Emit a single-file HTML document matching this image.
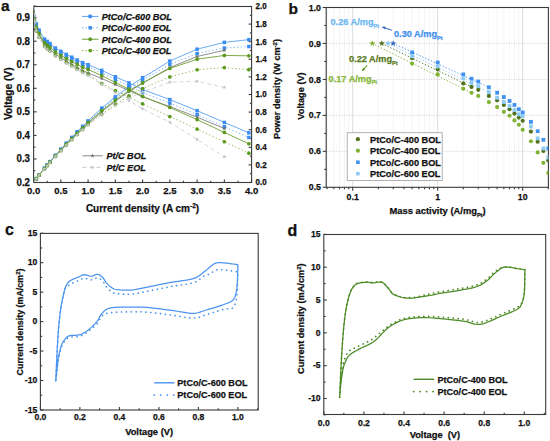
<!DOCTYPE html>
<html><head><meta charset="utf-8"><style>
html,body{margin:0;padding:0;background:#fff;width:550px;height:441px;overflow:hidden}
svg{display:block;font-family:'Liberation Sans', sans-serif}

</style></head><body>
<svg width="550" height="441" viewBox="0 0 550 441">
<rect width="550" height="441" fill="#fff"/>
<text x="1.00" y="11.30" font-size="15.5" text-anchor="start" fill="#111" stroke="#111" stroke-width="0.25" font-weight="bold" font-style="normal" >a</text>
<rect x="33.6" y="6.5" width="218.0" height="176.0" fill="none" stroke="#3a3a3a" stroke-width="1.1"/>
<line x1="33.60" y1="182.50" x2="33.60" y2="179.50" stroke="#3a3a3a" stroke-width="1.1" />
<text x="33.60" y="194.00" font-size="9.97" text-anchor="middle" fill="#111" stroke="#111" stroke-width="0.25" font-weight="bold" font-style="normal" textLength="13.21" lengthAdjust="spacingAndGlyphs">0.0</text>
<line x1="47.23" y1="182.50" x2="47.23" y2="180.70" stroke="#3a3a3a" stroke-width="1.1" />
<line x1="60.85" y1="182.50" x2="60.85" y2="179.50" stroke="#3a3a3a" stroke-width="1.1" />
<text x="60.85" y="194.00" font-size="9.97" text-anchor="middle" fill="#111" stroke="#111" stroke-width="0.25" font-weight="bold" font-style="normal" textLength="13.21" lengthAdjust="spacingAndGlyphs">0.5</text>
<line x1="74.47" y1="182.50" x2="74.47" y2="180.70" stroke="#3a3a3a" stroke-width="1.1" />
<line x1="88.10" y1="182.50" x2="88.10" y2="179.50" stroke="#3a3a3a" stroke-width="1.1" />
<text x="88.10" y="194.00" font-size="9.97" text-anchor="middle" fill="#111" stroke="#111" stroke-width="0.25" font-weight="bold" font-style="normal" textLength="13.21" lengthAdjust="spacingAndGlyphs">1.0</text>
<line x1="101.72" y1="182.50" x2="101.72" y2="180.70" stroke="#3a3a3a" stroke-width="1.1" />
<line x1="115.35" y1="182.50" x2="115.35" y2="179.50" stroke="#3a3a3a" stroke-width="1.1" />
<text x="115.35" y="194.00" font-size="9.97" text-anchor="middle" fill="#111" stroke="#111" stroke-width="0.25" font-weight="bold" font-style="normal" textLength="13.21" lengthAdjust="spacingAndGlyphs">1.5</text>
<line x1="128.97" y1="182.50" x2="128.97" y2="180.70" stroke="#3a3a3a" stroke-width="1.1" />
<line x1="142.60" y1="182.50" x2="142.60" y2="179.50" stroke="#3a3a3a" stroke-width="1.1" />
<text x="142.60" y="194.00" font-size="9.97" text-anchor="middle" fill="#111" stroke="#111" stroke-width="0.25" font-weight="bold" font-style="normal" textLength="13.21" lengthAdjust="spacingAndGlyphs">2.0</text>
<line x1="156.22" y1="182.50" x2="156.22" y2="180.70" stroke="#3a3a3a" stroke-width="1.1" />
<line x1="169.85" y1="182.50" x2="169.85" y2="179.50" stroke="#3a3a3a" stroke-width="1.1" />
<text x="169.85" y="194.00" font-size="9.97" text-anchor="middle" fill="#111" stroke="#111" stroke-width="0.25" font-weight="bold" font-style="normal" textLength="13.21" lengthAdjust="spacingAndGlyphs">2.5</text>
<line x1="183.47" y1="182.50" x2="183.47" y2="180.70" stroke="#3a3a3a" stroke-width="1.1" />
<line x1="197.10" y1="182.50" x2="197.10" y2="179.50" stroke="#3a3a3a" stroke-width="1.1" />
<text x="197.10" y="194.00" font-size="9.97" text-anchor="middle" fill="#111" stroke="#111" stroke-width="0.25" font-weight="bold" font-style="normal" textLength="13.21" lengthAdjust="spacingAndGlyphs">3.0</text>
<line x1="210.72" y1="182.50" x2="210.72" y2="180.70" stroke="#3a3a3a" stroke-width="1.1" />
<line x1="224.35" y1="182.50" x2="224.35" y2="179.50" stroke="#3a3a3a" stroke-width="1.1" />
<text x="224.35" y="194.00" font-size="9.97" text-anchor="middle" fill="#111" stroke="#111" stroke-width="0.25" font-weight="bold" font-style="normal" textLength="13.21" lengthAdjust="spacingAndGlyphs">3.5</text>
<line x1="237.97" y1="182.50" x2="237.97" y2="180.70" stroke="#3a3a3a" stroke-width="1.1" />
<line x1="251.60" y1="182.50" x2="251.60" y2="179.50" stroke="#3a3a3a" stroke-width="1.1" />
<text x="251.60" y="194.00" font-size="9.97" text-anchor="middle" fill="#111" stroke="#111" stroke-width="0.25" font-weight="bold" font-style="normal" textLength="13.21" lengthAdjust="spacingAndGlyphs">4.0</text>
<line x1="33.60" y1="182.50" x2="36.60" y2="182.50" stroke="#3a3a3a" stroke-width="1.1" />
<text x="30.00" y="186.00" font-size="10.19" text-anchor="end" fill="#111" stroke="#111" stroke-width="0.25" font-weight="bold" font-style="normal" textLength="13.48" lengthAdjust="spacingAndGlyphs">0.2</text>
<line x1="33.60" y1="170.72" x2="35.40" y2="170.72" stroke="#3a3a3a" stroke-width="1.1" />
<line x1="33.60" y1="158.95" x2="36.60" y2="158.95" stroke="#3a3a3a" stroke-width="1.1" />
<text x="30.00" y="162.45" font-size="10.19" text-anchor="end" fill="#111" stroke="#111" stroke-width="0.25" font-weight="bold" font-style="normal" textLength="13.48" lengthAdjust="spacingAndGlyphs">0.3</text>
<line x1="33.60" y1="147.18" x2="35.40" y2="147.18" stroke="#3a3a3a" stroke-width="1.1" />
<line x1="33.60" y1="135.40" x2="36.60" y2="135.40" stroke="#3a3a3a" stroke-width="1.1" />
<text x="30.00" y="138.90" font-size="10.19" text-anchor="end" fill="#111" stroke="#111" stroke-width="0.25" font-weight="bold" font-style="normal" textLength="13.48" lengthAdjust="spacingAndGlyphs">0.4</text>
<line x1="33.60" y1="123.62" x2="35.40" y2="123.62" stroke="#3a3a3a" stroke-width="1.1" />
<line x1="33.60" y1="111.85" x2="36.60" y2="111.85" stroke="#3a3a3a" stroke-width="1.1" />
<text x="30.00" y="115.35" font-size="10.19" text-anchor="end" fill="#111" stroke="#111" stroke-width="0.25" font-weight="bold" font-style="normal" textLength="13.48" lengthAdjust="spacingAndGlyphs">0.5</text>
<line x1="33.60" y1="100.07" x2="35.40" y2="100.07" stroke="#3a3a3a" stroke-width="1.1" />
<line x1="33.60" y1="88.30" x2="36.60" y2="88.30" stroke="#3a3a3a" stroke-width="1.1" />
<text x="30.00" y="91.80" font-size="10.19" text-anchor="end" fill="#111" stroke="#111" stroke-width="0.25" font-weight="bold" font-style="normal" textLength="13.48" lengthAdjust="spacingAndGlyphs">0.6</text>
<line x1="33.60" y1="76.52" x2="35.40" y2="76.52" stroke="#3a3a3a" stroke-width="1.1" />
<line x1="33.60" y1="64.75" x2="36.60" y2="64.75" stroke="#3a3a3a" stroke-width="1.1" />
<text x="30.00" y="68.25" font-size="10.19" text-anchor="end" fill="#111" stroke="#111" stroke-width="0.25" font-weight="bold" font-style="normal" textLength="13.48" lengthAdjust="spacingAndGlyphs">0.7</text>
<line x1="33.60" y1="52.97" x2="35.40" y2="52.97" stroke="#3a3a3a" stroke-width="1.1" />
<line x1="33.60" y1="41.20" x2="36.60" y2="41.20" stroke="#3a3a3a" stroke-width="1.1" />
<text x="30.00" y="44.70" font-size="10.19" text-anchor="end" fill="#111" stroke="#111" stroke-width="0.25" font-weight="bold" font-style="normal" textLength="13.48" lengthAdjust="spacingAndGlyphs">0.8</text>
<line x1="33.60" y1="29.42" x2="35.40" y2="29.42" stroke="#3a3a3a" stroke-width="1.1" />
<line x1="33.60" y1="17.65" x2="36.60" y2="17.65" stroke="#3a3a3a" stroke-width="1.1" />
<text x="30.00" y="21.15" font-size="10.19" text-anchor="end" fill="#111" stroke="#111" stroke-width="0.25" font-weight="bold" font-style="normal" textLength="13.48" lengthAdjust="spacingAndGlyphs">0.9</text>
<line x1="33.60" y1="5.88" x2="35.40" y2="5.88" stroke="#3a3a3a" stroke-width="1.1" />
<line x1="251.60" y1="182.50" x2="248.60" y2="182.50" stroke="#3a3a3a" stroke-width="1.1" />
<text x="255.60" y="185.40" font-size="8.4" text-anchor="start" fill="#111" stroke="#111" stroke-width="0.25" font-weight="bold" font-style="normal" textLength="11.12" lengthAdjust="spacingAndGlyphs">0.0</text>
<line x1="251.60" y1="173.70" x2="249.80" y2="173.70" stroke="#3a3a3a" stroke-width="1.1" />
<line x1="251.60" y1="164.90" x2="248.60" y2="164.90" stroke="#3a3a3a" stroke-width="1.1" />
<text x="255.60" y="167.80" font-size="8.4" text-anchor="start" fill="#111" stroke="#111" stroke-width="0.25" font-weight="bold" font-style="normal" textLength="11.12" lengthAdjust="spacingAndGlyphs">0.2</text>
<line x1="251.60" y1="156.10" x2="249.80" y2="156.10" stroke="#3a3a3a" stroke-width="1.1" />
<line x1="251.60" y1="147.30" x2="248.60" y2="147.30" stroke="#3a3a3a" stroke-width="1.1" />
<text x="255.60" y="150.20" font-size="8.4" text-anchor="start" fill="#111" stroke="#111" stroke-width="0.25" font-weight="bold" font-style="normal" textLength="11.12" lengthAdjust="spacingAndGlyphs">0.4</text>
<line x1="251.60" y1="138.50" x2="249.80" y2="138.50" stroke="#3a3a3a" stroke-width="1.1" />
<line x1="251.60" y1="129.70" x2="248.60" y2="129.70" stroke="#3a3a3a" stroke-width="1.1" />
<text x="255.60" y="132.60" font-size="8.4" text-anchor="start" fill="#111" stroke="#111" stroke-width="0.25" font-weight="bold" font-style="normal" textLength="11.12" lengthAdjust="spacingAndGlyphs">0.6</text>
<line x1="251.60" y1="120.90" x2="249.80" y2="120.90" stroke="#3a3a3a" stroke-width="1.1" />
<line x1="251.60" y1="112.10" x2="248.60" y2="112.10" stroke="#3a3a3a" stroke-width="1.1" />
<text x="255.60" y="115.00" font-size="8.4" text-anchor="start" fill="#111" stroke="#111" stroke-width="0.25" font-weight="bold" font-style="normal" textLength="11.12" lengthAdjust="spacingAndGlyphs">0.8</text>
<line x1="251.60" y1="103.30" x2="249.80" y2="103.30" stroke="#3a3a3a" stroke-width="1.1" />
<line x1="251.60" y1="94.50" x2="248.60" y2="94.50" stroke="#3a3a3a" stroke-width="1.1" />
<text x="255.60" y="97.40" font-size="8.4" text-anchor="start" fill="#111" stroke="#111" stroke-width="0.25" font-weight="bold" font-style="normal" textLength="11.12" lengthAdjust="spacingAndGlyphs">1.0</text>
<line x1="251.60" y1="85.70" x2="249.80" y2="85.70" stroke="#3a3a3a" stroke-width="1.1" />
<line x1="251.60" y1="76.90" x2="248.60" y2="76.90" stroke="#3a3a3a" stroke-width="1.1" />
<text x="255.60" y="79.80" font-size="8.4" text-anchor="start" fill="#111" stroke="#111" stroke-width="0.25" font-weight="bold" font-style="normal" textLength="11.12" lengthAdjust="spacingAndGlyphs">1.2</text>
<line x1="251.60" y1="68.10" x2="249.80" y2="68.10" stroke="#3a3a3a" stroke-width="1.1" />
<line x1="251.60" y1="59.30" x2="248.60" y2="59.30" stroke="#3a3a3a" stroke-width="1.1" />
<text x="255.60" y="62.20" font-size="8.4" text-anchor="start" fill="#111" stroke="#111" stroke-width="0.25" font-weight="bold" font-style="normal" textLength="11.12" lengthAdjust="spacingAndGlyphs">1.4</text>
<line x1="251.60" y1="50.50" x2="249.80" y2="50.50" stroke="#3a3a3a" stroke-width="1.1" />
<line x1="251.60" y1="41.70" x2="248.60" y2="41.70" stroke="#3a3a3a" stroke-width="1.1" />
<text x="255.60" y="44.60" font-size="8.4" text-anchor="start" fill="#111" stroke="#111" stroke-width="0.25" font-weight="bold" font-style="normal" textLength="11.12" lengthAdjust="spacingAndGlyphs">1.6</text>
<line x1="251.60" y1="32.90" x2="249.80" y2="32.90" stroke="#3a3a3a" stroke-width="1.1" />
<line x1="251.60" y1="24.10" x2="248.60" y2="24.10" stroke="#3a3a3a" stroke-width="1.1" />
<text x="255.60" y="27.00" font-size="8.4" text-anchor="start" fill="#111" stroke="#111" stroke-width="0.25" font-weight="bold" font-style="normal" textLength="11.12" lengthAdjust="spacingAndGlyphs">1.8</text>
<line x1="251.60" y1="15.30" x2="249.80" y2="15.30" stroke="#3a3a3a" stroke-width="1.1" />
<line x1="251.60" y1="6.50" x2="248.60" y2="6.50" stroke="#3a3a3a" stroke-width="1.1" />
<text x="255.60" y="9.40" font-size="8.4" text-anchor="start" fill="#111" stroke="#111" stroke-width="0.25" font-weight="bold" font-style="normal" textLength="11.12" lengthAdjust="spacingAndGlyphs">2.0</text>
<text x="142.50" y="211.80" font-size="10" text-anchor="middle" fill="#111" stroke="#111" stroke-width="0.25" font-weight="bold" font-style="normal" >Current density (A cm<tspan dy="-3.5" font-size="6.5">-2</tspan><tspan dy="3.5">)</tspan></text>
<text transform="translate(12.3,93.7) rotate(-90)" font-size="10.2" text-anchor="middle" fill="#111" stroke="#111" stroke-width="0.25" font-weight="bold">Voltage (V)</text>
<text transform="translate(280.0,89) rotate(-90)" font-size="9.1" text-anchor="middle" fill="#111" stroke="#111" stroke-width="0.25" font-weight="bold">Power density (W cm<tspan dy="-3" font-size="6">-2</tspan><tspan dy="3">)</tspan></text>
<clipPath id="clipa"><rect x="33.6" y="6.5" width="218.0" height="176.0"/></clipPath>
<g clip-path="url(#clipa)">
<polyline points="33.60,5.88 36.33,24.01 39.05,30.13 44.50,39.08 47.23,41.44 49.95,43.55 55.40,48.03 60.85,51.33 66.30,54.39 71.75,57.21 77.20,60.04 82.65,62.63 88.10,64.75 101.72,70.40 115.35,76.76 128.97,82.88 142.60,89.48 169.85,99.60 197.10,110.67 224.35,122.45 248.88,132.81" fill="none" stroke="#5aa2f2" stroke-width="0.9" stroke-linejoin="round" />
<polyline points="33.60,182.50 36.33,178.66 39.05,175.05 44.50,168.26 47.23,164.92 49.95,161.64 55.40,155.36 60.85,149.19 66.30,143.22 71.75,137.41 77.20,131.81 82.65,126.35 88.10,120.90 101.72,108.14 115.35,96.83 128.97,86.56 142.60,77.78 169.85,61.06 197.10,49.18 224.35,42.36 248.88,39.64" fill="none" stroke="#5aa2f2" stroke-width="0.9" stroke-linejoin="round" />
<rect x="34.58" y="22.26" width="3.5" height="3.5" fill="#3a8cf2"/>
<rect x="34.58" y="176.91" width="3.5" height="3.5" fill="#3a8cf2"/>
<rect x="37.30" y="28.38" width="3.5" height="3.5" fill="#3a8cf2"/>
<rect x="37.30" y="173.30" width="3.5" height="3.5" fill="#3a8cf2"/>
<rect x="42.75" y="37.33" width="3.5" height="3.5" fill="#3a8cf2"/>
<rect x="42.75" y="166.51" width="3.5" height="3.5" fill="#3a8cf2"/>
<rect x="45.48" y="39.69" width="3.5" height="3.5" fill="#3a8cf2"/>
<rect x="45.48" y="163.17" width="3.5" height="3.5" fill="#3a8cf2"/>
<rect x="48.20" y="41.80" width="3.5" height="3.5" fill="#3a8cf2"/>
<rect x="48.20" y="159.89" width="3.5" height="3.5" fill="#3a8cf2"/>
<rect x="53.65" y="46.28" width="3.5" height="3.5" fill="#3a8cf2"/>
<rect x="53.65" y="153.61" width="3.5" height="3.5" fill="#3a8cf2"/>
<rect x="59.10" y="49.58" width="3.5" height="3.5" fill="#3a8cf2"/>
<rect x="59.10" y="147.44" width="3.5" height="3.5" fill="#3a8cf2"/>
<rect x="64.55" y="52.64" width="3.5" height="3.5" fill="#3a8cf2"/>
<rect x="64.55" y="141.47" width="3.5" height="3.5" fill="#3a8cf2"/>
<rect x="70.00" y="55.46" width="3.5" height="3.5" fill="#3a8cf2"/>
<rect x="70.00" y="135.66" width="3.5" height="3.5" fill="#3a8cf2"/>
<rect x="75.45" y="58.29" width="3.5" height="3.5" fill="#3a8cf2"/>
<rect x="75.45" y="130.06" width="3.5" height="3.5" fill="#3a8cf2"/>
<rect x="80.90" y="60.88" width="3.5" height="3.5" fill="#3a8cf2"/>
<rect x="80.90" y="124.60" width="3.5" height="3.5" fill="#3a8cf2"/>
<rect x="86.35" y="63.00" width="3.5" height="3.5" fill="#3a8cf2"/>
<rect x="86.35" y="119.15" width="3.5" height="3.5" fill="#3a8cf2"/>
<rect x="99.97" y="68.65" width="3.5" height="3.5" fill="#3a8cf2"/>
<rect x="99.97" y="106.39" width="3.5" height="3.5" fill="#3a8cf2"/>
<rect x="113.60" y="75.01" width="3.5" height="3.5" fill="#3a8cf2"/>
<rect x="113.60" y="95.08" width="3.5" height="3.5" fill="#3a8cf2"/>
<rect x="127.22" y="81.13" width="3.5" height="3.5" fill="#3a8cf2"/>
<rect x="127.22" y="84.81" width="3.5" height="3.5" fill="#3a8cf2"/>
<rect x="140.85" y="87.73" width="3.5" height="3.5" fill="#3a8cf2"/>
<rect x="140.85" y="76.03" width="3.5" height="3.5" fill="#3a8cf2"/>
<rect x="168.10" y="97.85" width="3.5" height="3.5" fill="#3a8cf2"/>
<rect x="168.10" y="59.31" width="3.5" height="3.5" fill="#3a8cf2"/>
<rect x="195.35" y="108.92" width="3.5" height="3.5" fill="#3a8cf2"/>
<rect x="195.35" y="47.43" width="3.5" height="3.5" fill="#3a8cf2"/>
<rect x="222.60" y="120.70" width="3.5" height="3.5" fill="#3a8cf2"/>
<rect x="222.60" y="40.61" width="3.5" height="3.5" fill="#3a8cf2"/>
<rect x="247.12" y="131.06" width="3.5" height="3.5" fill="#3a8cf2"/>
<rect x="247.12" y="37.89" width="3.5" height="3.5" fill="#3a8cf2"/>
<polyline points="33.60,6.82 36.33,25.02 39.05,31.21 44.50,40.31 47.23,42.73 49.95,44.92 55.40,49.54 60.85,52.97 66.30,56.18 71.75,59.15 77.20,62.11 82.65,64.84 88.10,67.11 101.72,72.95 115.35,79.51 128.97,85.83 142.60,92.62 169.85,103.14 197.10,114.60 224.35,126.76 248.88,137.48" fill="none" stroke="#5aa2f2" stroke-width="0.9" stroke-linejoin="round" stroke-dasharray="1.2 2.4"/>
<polyline points="33.60,182.50 36.33,178.68 39.05,175.09 44.50,168.35 47.23,165.04 49.95,161.80 55.40,155.59 60.85,149.50 66.30,143.62 71.75,137.91 77.20,132.43 82.65,127.09 88.10,121.78 101.72,109.33 115.35,98.37 128.97,88.48 142.60,80.13 169.85,64.36 197.10,53.58 224.35,48.01 248.88,46.53" fill="none" stroke="#5aa2f2" stroke-width="0.9" stroke-linejoin="round" stroke-dasharray="1.2 2.4"/>
<rect x="34.58" y="23.27" width="3.5" height="3.5" fill="#3a8cf2"/>
<rect x="34.58" y="176.93" width="3.5" height="3.5" fill="#3a8cf2"/>
<rect x="37.30" y="29.46" width="3.5" height="3.5" fill="#3a8cf2"/>
<rect x="37.30" y="173.34" width="3.5" height="3.5" fill="#3a8cf2"/>
<rect x="42.75" y="38.56" width="3.5" height="3.5" fill="#3a8cf2"/>
<rect x="42.75" y="166.60" width="3.5" height="3.5" fill="#3a8cf2"/>
<rect x="45.48" y="40.98" width="3.5" height="3.5" fill="#3a8cf2"/>
<rect x="45.48" y="163.29" width="3.5" height="3.5" fill="#3a8cf2"/>
<rect x="48.20" y="43.17" width="3.5" height="3.5" fill="#3a8cf2"/>
<rect x="48.20" y="160.05" width="3.5" height="3.5" fill="#3a8cf2"/>
<rect x="53.65" y="47.79" width="3.5" height="3.5" fill="#3a8cf2"/>
<rect x="53.65" y="153.84" width="3.5" height="3.5" fill="#3a8cf2"/>
<rect x="59.10" y="51.22" width="3.5" height="3.5" fill="#3a8cf2"/>
<rect x="59.10" y="147.75" width="3.5" height="3.5" fill="#3a8cf2"/>
<rect x="64.55" y="54.43" width="3.5" height="3.5" fill="#3a8cf2"/>
<rect x="64.55" y="141.87" width="3.5" height="3.5" fill="#3a8cf2"/>
<rect x="70.00" y="57.40" width="3.5" height="3.5" fill="#3a8cf2"/>
<rect x="70.00" y="136.16" width="3.5" height="3.5" fill="#3a8cf2"/>
<rect x="75.45" y="60.36" width="3.5" height="3.5" fill="#3a8cf2"/>
<rect x="75.45" y="130.68" width="3.5" height="3.5" fill="#3a8cf2"/>
<rect x="80.90" y="63.09" width="3.5" height="3.5" fill="#3a8cf2"/>
<rect x="80.90" y="125.34" width="3.5" height="3.5" fill="#3a8cf2"/>
<rect x="86.35" y="65.36" width="3.5" height="3.5" fill="#3a8cf2"/>
<rect x="86.35" y="120.03" width="3.5" height="3.5" fill="#3a8cf2"/>
<rect x="99.97" y="71.20" width="3.5" height="3.5" fill="#3a8cf2"/>
<rect x="99.97" y="107.58" width="3.5" height="3.5" fill="#3a8cf2"/>
<rect x="113.60" y="77.76" width="3.5" height="3.5" fill="#3a8cf2"/>
<rect x="113.60" y="96.62" width="3.5" height="3.5" fill="#3a8cf2"/>
<rect x="127.22" y="84.08" width="3.5" height="3.5" fill="#3a8cf2"/>
<rect x="127.22" y="86.73" width="3.5" height="3.5" fill="#3a8cf2"/>
<rect x="140.85" y="90.87" width="3.5" height="3.5" fill="#3a8cf2"/>
<rect x="140.85" y="78.38" width="3.5" height="3.5" fill="#3a8cf2"/>
<rect x="168.10" y="101.39" width="3.5" height="3.5" fill="#3a8cf2"/>
<rect x="168.10" y="62.61" width="3.5" height="3.5" fill="#3a8cf2"/>
<rect x="195.35" y="112.85" width="3.5" height="3.5" fill="#3a8cf2"/>
<rect x="195.35" y="51.83" width="3.5" height="3.5" fill="#3a8cf2"/>
<rect x="222.60" y="125.01" width="3.5" height="3.5" fill="#3a8cf2"/>
<rect x="222.60" y="46.26" width="3.5" height="3.5" fill="#3a8cf2"/>
<rect x="247.12" y="135.73" width="3.5" height="3.5" fill="#3a8cf2"/>
<rect x="247.12" y="44.78" width="3.5" height="3.5" fill="#3a8cf2"/>
<polyline points="33.60,5.88 36.33,28.90 39.05,35.19 44.50,44.50 47.23,47.03 49.95,49.32 55.40,54.15 60.85,57.80 66.30,61.22 71.75,64.40 77.20,67.58 82.65,70.52 88.10,72.99 101.72,78.43 115.35,84.57 128.97,90.48 142.60,96.86 169.85,106.55 197.10,117.19 224.35,128.53" fill="none" stroke="#808080" stroke-width="0.9" stroke-linejoin="round" />
<polyline points="33.60,182.50 36.33,178.75 39.05,175.24 44.50,168.67 47.23,165.44 49.95,162.29 55.40,156.28 60.85,150.40 66.30,144.75 71.75,139.29 77.20,134.06 82.65,129.00 88.10,123.98 101.72,111.89 115.35,101.21 128.97,91.52 142.60,83.29 169.85,67.55 197.10,56.48 224.35,50.32" fill="none" stroke="#808080" stroke-width="0.9" stroke-linejoin="round" />
<polygon points="36.33,26.70 36.88,28.13 38.42,28.22 37.23,29.19 37.62,30.67 36.33,29.85 35.03,30.67 35.42,29.19 34.23,28.22 35.77,28.13" fill="#707070"/>
<polygon points="36.33,176.55 36.88,177.98 38.42,178.07 37.23,179.04 37.62,180.53 36.33,179.70 35.03,180.53 35.42,179.04 34.23,178.07 35.77,177.98" fill="#707070"/>
<polygon points="39.05,32.99 39.61,34.43 41.14,34.51 39.95,35.49 40.34,36.97 39.05,36.14 37.76,36.97 38.15,35.49 36.96,34.51 38.49,34.43" fill="#707070"/>
<polygon points="39.05,173.04 39.61,174.47 41.14,174.56 39.95,175.53 40.34,177.02 39.05,176.19 37.76,177.02 38.15,175.53 36.96,174.56 38.49,174.47" fill="#707070"/>
<polygon points="44.50,42.30 45.06,43.73 46.59,43.82 45.40,44.79 45.79,46.28 44.50,45.45 43.21,46.28 43.60,44.79 42.41,43.82 43.94,43.73" fill="#707070"/>
<polygon points="44.50,166.47 45.06,167.90 46.59,167.99 45.40,168.96 45.79,170.45 44.50,169.62 43.21,170.45 43.60,168.96 42.41,167.99 43.94,167.90" fill="#707070"/>
<polygon points="47.23,44.83 47.78,46.26 49.32,46.35 48.13,47.32 48.52,48.81 47.23,47.98 45.93,48.81 46.32,47.32 45.13,46.35 46.67,46.26" fill="#707070"/>
<polygon points="47.23,163.24 47.78,164.68 49.32,164.76 48.13,165.74 48.52,167.22 47.23,166.39 45.93,167.22 46.32,165.74 45.13,164.76 46.67,164.68" fill="#707070"/>
<polygon points="49.95,47.12 50.51,48.56 52.04,48.64 50.85,49.62 51.24,51.10 49.95,50.27 48.66,51.10 49.05,49.62 47.86,48.64 49.39,48.56" fill="#707070"/>
<polygon points="49.95,160.09 50.51,161.52 52.04,161.61 50.85,162.58 51.24,164.07 49.95,163.24 48.66,164.07 49.05,162.58 47.86,161.61 49.39,161.52" fill="#707070"/>
<polygon points="55.40,51.95 55.96,53.38 57.49,53.47 56.30,54.45 56.69,55.93 55.40,55.10 54.11,55.93 54.50,54.45 53.31,53.47 54.84,53.38" fill="#707070"/>
<polygon points="55.40,154.08 55.96,155.51 57.49,155.60 56.30,156.57 56.69,158.06 55.40,157.23 54.11,158.06 54.50,156.57 53.31,155.60 54.84,155.51" fill="#707070"/>
<polygon points="60.85,55.60 61.41,57.03 62.94,57.12 61.75,58.10 62.14,59.58 60.85,58.75 59.56,59.58 59.95,58.10 58.76,57.12 60.29,57.03" fill="#707070"/>
<polygon points="60.85,148.20 61.41,149.63 62.94,149.72 61.75,150.70 62.14,152.18 60.85,151.35 59.56,152.18 59.95,150.70 58.76,149.72 60.29,149.63" fill="#707070"/>
<polygon points="66.30,59.02 66.86,60.45 68.39,60.54 67.20,61.51 67.59,63.00 66.30,62.17 65.01,63.00 65.40,61.51 64.21,60.54 65.74,60.45" fill="#707070"/>
<polygon points="66.30,142.55 66.86,143.98 68.39,144.07 67.20,145.04 67.59,146.53 66.30,145.70 65.01,146.53 65.40,145.04 64.21,144.07 65.74,143.98" fill="#707070"/>
<polygon points="71.75,62.20 72.31,63.63 73.84,63.72 72.65,64.69 73.04,66.18 71.75,65.35 70.46,66.18 70.85,64.69 69.66,63.72 71.19,63.63" fill="#707070"/>
<polygon points="71.75,137.09 72.31,138.52 73.84,138.61 72.65,139.58 73.04,141.07 71.75,140.24 70.46,141.07 70.85,139.58 69.66,138.61 71.19,138.52" fill="#707070"/>
<polygon points="77.20,65.38 77.76,66.81 79.29,66.90 78.10,67.87 78.49,69.36 77.20,68.53 75.91,69.36 76.30,67.87 75.11,66.90 76.64,66.81" fill="#707070"/>
<polygon points="77.20,131.86 77.76,133.30 79.29,133.38 78.10,134.36 78.49,135.84 77.20,135.01 75.91,135.84 76.30,134.36 75.11,133.38 76.64,133.30" fill="#707070"/>
<polygon points="82.65,68.32 83.21,69.75 84.74,69.84 83.55,70.81 83.94,72.30 82.65,71.47 81.36,72.30 81.75,70.81 80.56,69.84 82.09,69.75" fill="#707070"/>
<polygon points="82.65,126.80 83.21,128.23 84.74,128.32 83.55,129.29 83.94,130.78 82.65,129.95 81.36,130.78 81.75,129.29 80.56,128.32 82.09,128.23" fill="#707070"/>
<polygon points="88.10,70.79 88.66,72.22 90.19,72.31 89.00,73.29 89.39,74.77 88.10,73.94 86.81,74.77 87.20,73.29 86.01,72.31 87.54,72.22" fill="#707070"/>
<polygon points="88.10,121.78 88.66,123.21 90.19,123.30 89.00,124.27 89.39,125.76 88.10,124.93 86.81,125.76 87.20,124.27 86.01,123.30 87.54,123.21" fill="#707070"/>
<polygon points="101.72,76.23 102.28,77.66 103.82,77.75 102.63,78.72 103.02,80.21 101.72,79.38 100.43,80.21 100.82,78.72 99.63,77.75 101.17,77.66" fill="#707070"/>
<polygon points="101.72,109.69 102.28,111.12 103.82,111.21 102.63,112.18 103.02,113.67 101.72,112.84 100.43,113.67 100.82,112.18 99.63,111.21 101.17,111.12" fill="#707070"/>
<polygon points="115.35,82.37 115.91,83.80 117.44,83.89 116.25,84.86 116.64,86.35 115.35,85.52 114.06,86.35 114.45,84.86 113.26,83.89 114.79,83.80" fill="#707070"/>
<polygon points="115.35,99.01 115.91,100.44 117.44,100.53 116.25,101.50 116.64,102.99 115.35,102.16 114.06,102.99 114.45,101.50 113.26,100.53 114.79,100.44" fill="#707070"/>
<polygon points="128.97,88.28 129.53,89.71 131.07,89.80 129.88,90.77 130.27,92.26 128.97,91.43 127.68,92.26 128.07,90.77 126.88,89.80 128.42,89.71" fill="#707070"/>
<polygon points="128.97,89.32 129.53,90.76 131.07,90.84 129.88,91.82 130.27,93.30 128.97,92.47 127.68,93.30 128.07,91.82 126.88,90.84 128.42,90.76" fill="#707070"/>
<polygon points="142.60,94.66 143.16,96.09 144.69,96.18 143.50,97.15 143.89,98.64 142.60,97.81 141.31,98.64 141.70,97.15 140.51,96.18 142.04,96.09" fill="#707070"/>
<polygon points="142.60,81.09 143.16,82.53 144.69,82.61 143.50,83.59 143.89,85.07 142.60,84.24 141.31,85.07 141.70,83.59 140.51,82.61 142.04,82.53" fill="#707070"/>
<polygon points="169.85,104.35 170.41,105.78 171.94,105.87 170.75,106.84 171.14,108.33 169.85,107.50 168.56,108.33 168.95,106.84 167.76,105.87 169.29,105.78" fill="#707070"/>
<polygon points="169.85,65.35 170.41,66.78 171.94,66.87 170.75,67.84 171.14,69.33 169.85,68.50 168.56,69.33 168.95,67.84 167.76,66.87 169.29,66.78" fill="#707070"/>
<polygon points="197.10,114.99 197.66,116.42 199.19,116.51 198.00,117.48 198.39,118.97 197.10,118.14 195.81,118.97 196.20,117.48 195.01,116.51 196.54,116.42" fill="#707070"/>
<polygon points="197.10,54.28 197.66,55.72 199.19,55.80 198.00,56.78 198.39,58.26 197.10,57.43 195.81,58.26 196.20,56.78 195.01,55.80 196.54,55.72" fill="#707070"/>
<polygon points="224.35,126.33 224.91,127.76 226.44,127.85 225.25,128.82 225.64,130.31 224.35,129.48 223.06,130.31 223.45,128.82 222.26,127.85 223.79,127.76" fill="#707070"/>
<polygon points="224.35,48.12 224.91,49.55 226.44,49.64 225.25,50.61 225.64,52.10 224.35,51.27 223.06,52.10 223.45,50.61 222.26,49.64 223.79,49.55" fill="#707070"/>
<polyline points="33.60,9.17 36.33,27.38 39.05,33.57 44.50,42.66 47.23,45.09 49.95,47.28 55.40,51.89 60.85,55.33 66.30,58.53 71.75,61.50 77.20,64.47 82.65,67.20 88.10,69.46 101.72,75.64 115.35,82.53 128.97,89.18 142.60,96.31 169.85,107.49 197.10,119.62 224.35,132.46 248.88,143.77" fill="none" stroke="#6f9f2e" stroke-width="0.9" stroke-linejoin="round" />
<polyline points="33.60,182.50 36.33,178.72 39.05,175.17 44.50,168.53 47.23,165.26 49.95,162.06 55.40,155.94 60.85,149.94 66.30,144.15 71.75,138.53 77.20,133.14 82.65,127.88 88.10,122.66 101.72,110.59 115.35,100.07 128.97,90.68 142.60,82.88 169.85,68.43 197.10,59.21 224.35,55.45 248.88,55.82" fill="none" stroke="#6f9f2e" stroke-width="0.9" stroke-linejoin="round" />
<circle cx="36.33" cy="27.38" r="1.85" fill="#5c9a1e"/>
<circle cx="36.33" cy="178.72" r="1.85" fill="#5c9a1e"/>
<circle cx="39.05" cy="33.57" r="1.85" fill="#5c9a1e"/>
<circle cx="39.05" cy="175.17" r="1.85" fill="#5c9a1e"/>
<circle cx="44.50" cy="42.66" r="1.85" fill="#5c9a1e"/>
<circle cx="44.50" cy="168.53" r="1.85" fill="#5c9a1e"/>
<circle cx="47.23" cy="45.09" r="1.85" fill="#5c9a1e"/>
<circle cx="47.23" cy="165.26" r="1.85" fill="#5c9a1e"/>
<circle cx="49.95" cy="47.28" r="1.85" fill="#5c9a1e"/>
<circle cx="49.95" cy="162.06" r="1.85" fill="#5c9a1e"/>
<circle cx="55.40" cy="51.89" r="1.85" fill="#5c9a1e"/>
<circle cx="55.40" cy="155.94" r="1.85" fill="#5c9a1e"/>
<circle cx="60.85" cy="55.33" r="1.85" fill="#5c9a1e"/>
<circle cx="60.85" cy="149.94" r="1.85" fill="#5c9a1e"/>
<circle cx="66.30" cy="58.53" r="1.85" fill="#5c9a1e"/>
<circle cx="66.30" cy="144.15" r="1.85" fill="#5c9a1e"/>
<circle cx="71.75" cy="61.50" r="1.85" fill="#5c9a1e"/>
<circle cx="71.75" cy="138.53" r="1.85" fill="#5c9a1e"/>
<circle cx="77.20" cy="64.47" r="1.85" fill="#5c9a1e"/>
<circle cx="77.20" cy="133.14" r="1.85" fill="#5c9a1e"/>
<circle cx="82.65" cy="67.20" r="1.85" fill="#5c9a1e"/>
<circle cx="82.65" cy="127.88" r="1.85" fill="#5c9a1e"/>
<circle cx="88.10" cy="69.46" r="1.85" fill="#5c9a1e"/>
<circle cx="88.10" cy="122.66" r="1.85" fill="#5c9a1e"/>
<circle cx="101.72" cy="75.64" r="1.85" fill="#5c9a1e"/>
<circle cx="101.72" cy="110.59" r="1.85" fill="#5c9a1e"/>
<circle cx="115.35" cy="82.53" r="1.85" fill="#5c9a1e"/>
<circle cx="115.35" cy="100.07" r="1.85" fill="#5c9a1e"/>
<circle cx="128.97" cy="89.18" r="1.85" fill="#5c9a1e"/>
<circle cx="128.97" cy="90.68" r="1.85" fill="#5c9a1e"/>
<circle cx="142.60" cy="96.31" r="1.85" fill="#5c9a1e"/>
<circle cx="142.60" cy="82.88" r="1.85" fill="#5c9a1e"/>
<circle cx="169.85" cy="107.49" r="1.85" fill="#5c9a1e"/>
<circle cx="169.85" cy="68.43" r="1.85" fill="#5c9a1e"/>
<circle cx="197.10" cy="119.62" r="1.85" fill="#5c9a1e"/>
<circle cx="197.10" cy="59.21" r="1.85" fill="#5c9a1e"/>
<circle cx="224.35" cy="132.46" r="1.85" fill="#5c9a1e"/>
<circle cx="224.35" cy="55.45" r="1.85" fill="#5c9a1e"/>
<circle cx="248.88" cy="143.77" r="1.85" fill="#5c9a1e"/>
<circle cx="248.88" cy="55.82" r="1.85" fill="#5c9a1e"/>
<polyline points="33.60,12.94 36.33,31.14 39.05,37.34 44.50,46.43 47.23,48.85 49.95,51.04 55.40,55.66 60.85,59.10 66.30,62.54 71.75,65.74 77.20,68.94 82.65,71.91 88.10,74.41 101.72,83.59 115.35,90.65 128.97,97.01 142.60,103.84 169.85,116.56 197.10,129.04 224.35,141.76 248.88,153.18" fill="none" stroke="#7fae3a" stroke-width="0.9" stroke-linejoin="round" stroke-dasharray="1.2 2.4"/>
<polyline points="33.60,182.50 36.33,178.79 39.05,175.32 44.50,168.81 47.23,165.62 49.95,162.48 55.40,156.50 60.85,150.64 66.30,145.04 71.75,139.64 77.20,134.47 82.65,129.47 88.10,124.51 101.72,114.30 115.35,104.62 128.97,95.80 142.60,88.52 169.85,76.90 197.10,69.77 224.35,67.62 248.88,69.70" fill="none" stroke="#7fae3a" stroke-width="0.9" stroke-linejoin="round" stroke-dasharray="1.2 2.4"/>
<circle cx="36.33" cy="31.14" r="1.85" fill="#5c9a1e"/>
<circle cx="36.33" cy="178.79" r="1.85" fill="#5c9a1e"/>
<circle cx="39.05" cy="37.34" r="1.85" fill="#5c9a1e"/>
<circle cx="39.05" cy="175.32" r="1.85" fill="#5c9a1e"/>
<circle cx="44.50" cy="46.43" r="1.85" fill="#5c9a1e"/>
<circle cx="44.50" cy="168.81" r="1.85" fill="#5c9a1e"/>
<circle cx="47.23" cy="48.85" r="1.85" fill="#5c9a1e"/>
<circle cx="47.23" cy="165.62" r="1.85" fill="#5c9a1e"/>
<circle cx="49.95" cy="51.04" r="1.85" fill="#5c9a1e"/>
<circle cx="49.95" cy="162.48" r="1.85" fill="#5c9a1e"/>
<circle cx="55.40" cy="55.66" r="1.85" fill="#5c9a1e"/>
<circle cx="55.40" cy="156.50" r="1.85" fill="#5c9a1e"/>
<circle cx="60.85" cy="59.10" r="1.85" fill="#5c9a1e"/>
<circle cx="60.85" cy="150.64" r="1.85" fill="#5c9a1e"/>
<circle cx="66.30" cy="62.54" r="1.85" fill="#5c9a1e"/>
<circle cx="66.30" cy="145.04" r="1.85" fill="#5c9a1e"/>
<circle cx="71.75" cy="65.74" r="1.85" fill="#5c9a1e"/>
<circle cx="71.75" cy="139.64" r="1.85" fill="#5c9a1e"/>
<circle cx="77.20" cy="68.94" r="1.85" fill="#5c9a1e"/>
<circle cx="77.20" cy="134.47" r="1.85" fill="#5c9a1e"/>
<circle cx="82.65" cy="71.91" r="1.85" fill="#5c9a1e"/>
<circle cx="82.65" cy="129.47" r="1.85" fill="#5c9a1e"/>
<circle cx="88.10" cy="74.41" r="1.85" fill="#5c9a1e"/>
<circle cx="88.10" cy="124.51" r="1.85" fill="#5c9a1e"/>
<circle cx="101.72" cy="83.59" r="1.85" fill="#5c9a1e"/>
<circle cx="101.72" cy="114.30" r="1.85" fill="#5c9a1e"/>
<circle cx="115.35" cy="90.65" r="1.85" fill="#5c9a1e"/>
<circle cx="115.35" cy="104.62" r="1.85" fill="#5c9a1e"/>
<circle cx="128.97" cy="97.01" r="1.85" fill="#5c9a1e"/>
<circle cx="128.97" cy="95.80" r="1.85" fill="#5c9a1e"/>
<circle cx="142.60" cy="103.84" r="1.85" fill="#5c9a1e"/>
<circle cx="142.60" cy="88.52" r="1.85" fill="#5c9a1e"/>
<circle cx="169.85" cy="116.56" r="1.85" fill="#5c9a1e"/>
<circle cx="169.85" cy="76.90" r="1.85" fill="#5c9a1e"/>
<circle cx="197.10" cy="129.04" r="1.85" fill="#5c9a1e"/>
<circle cx="197.10" cy="69.77" r="1.85" fill="#5c9a1e"/>
<circle cx="224.35" cy="141.76" r="1.85" fill="#5c9a1e"/>
<circle cx="224.35" cy="67.62" r="1.85" fill="#5c9a1e"/>
<circle cx="248.88" cy="153.18" r="1.85" fill="#5c9a1e"/>
<circle cx="248.88" cy="69.70" r="1.85" fill="#5c9a1e"/>
<polyline points="33.60,5.88 36.33,31.21 39.05,37.48 44.50,46.71 47.23,49.21 49.95,51.47 55.40,56.22 60.85,59.80 66.30,63.34 71.75,66.63 77.20,69.93 82.65,72.99 88.10,75.58 101.72,84.30 115.35,92.77 128.97,100.55 142.60,108.79 169.85,122.21 197.10,139.40 224.35,156.83" fill="none" stroke="#d0d0d0" stroke-width="0.9" stroke-linejoin="round" stroke-dasharray="4 3"/>
<polyline points="33.60,182.50 36.33,178.79 39.05,175.32 44.50,168.83 47.23,165.65 49.95,162.53 55.40,156.59 60.85,150.78 66.30,145.22 71.75,139.87 77.20,134.77 82.65,129.83 88.10,124.95 101.72,114.63 115.35,105.81 128.97,98.11 142.60,92.21 169.85,82.18 197.10,81.39 224.35,87.33" fill="none" stroke="#d0d0d0" stroke-width="0.9" stroke-linejoin="round" stroke-dasharray="4 3"/>
<polygon points="36.33,29.01 36.88,30.45 38.42,30.53 37.23,31.51 37.62,32.99 36.33,32.16 35.03,32.99 35.42,31.51 34.23,30.53 35.77,30.45" fill="#c4c4c4"/>
<polygon points="36.33,176.59 36.88,178.02 38.42,178.11 37.23,179.09 37.62,180.57 36.33,179.74 35.03,180.57 35.42,179.09 34.23,178.11 35.77,178.02" fill="#c4c4c4"/>
<polygon points="39.05,35.28 39.61,36.71 41.14,36.80 39.95,37.77 40.34,39.26 39.05,38.43 37.76,39.26 38.15,37.77 36.96,36.80 38.49,36.71" fill="#c4c4c4"/>
<polygon points="39.05,173.12 39.61,174.55 41.14,174.64 39.95,175.61 40.34,177.10 39.05,176.27 37.76,177.10 38.15,175.61 36.96,174.64 38.49,174.55" fill="#c4c4c4"/>
<polygon points="44.50,44.51 45.06,45.94 46.59,46.03 45.40,47.00 45.79,48.49 44.50,47.66 43.21,48.49 43.60,47.00 42.41,46.03 43.94,45.94" fill="#c4c4c4"/>
<polygon points="44.50,166.63 45.06,168.06 46.59,168.15 45.40,169.13 45.79,170.61 44.50,169.78 43.21,170.61 43.60,169.13 42.41,168.15 43.94,168.06" fill="#c4c4c4"/>
<polygon points="47.23,47.01 47.78,48.44 49.32,48.53 48.13,49.50 48.52,50.99 47.23,50.16 45.93,50.99 46.32,49.50 45.13,48.53 46.67,48.44" fill="#c4c4c4"/>
<polygon points="47.23,163.45 47.78,164.88 49.32,164.97 48.13,165.94 48.52,167.43 47.23,166.60 45.93,167.43 46.32,165.94 45.13,164.97 46.67,164.88" fill="#c4c4c4"/>
<polygon points="49.95,49.27 50.51,50.70 52.04,50.79 50.85,51.76 51.24,53.25 49.95,52.42 48.66,53.25 49.05,51.76 47.86,50.79 49.39,50.70" fill="#c4c4c4"/>
<polygon points="49.95,160.33 50.51,161.76 52.04,161.85 50.85,162.82 51.24,164.31 49.95,163.48 48.66,164.31 49.05,162.82 47.86,161.85 49.39,161.76" fill="#c4c4c4"/>
<polygon points="55.40,54.02 55.96,55.46 57.49,55.55 56.30,56.52 56.69,58.00 55.40,57.17 54.11,58.00 54.50,56.52 53.31,55.55 54.84,55.46" fill="#c4c4c4"/>
<polygon points="55.40,154.39 55.96,155.82 57.49,155.91 56.30,156.88 56.69,158.37 55.40,157.54 54.11,158.37 54.50,156.88 53.31,155.91 54.84,155.82" fill="#c4c4c4"/>
<polygon points="60.85,57.60 61.41,59.04 62.94,59.12 61.75,60.10 62.14,61.58 60.85,60.75 59.56,61.58 59.95,60.10 58.76,59.12 60.29,59.04" fill="#c4c4c4"/>
<polygon points="60.85,148.58 61.41,150.01 62.94,150.10 61.75,151.07 62.14,152.56 60.85,151.73 59.56,152.56 59.95,151.07 58.76,150.10 60.29,150.01" fill="#c4c4c4"/>
<polygon points="66.30,61.14 66.86,62.57 68.39,62.66 67.20,63.63 67.59,65.12 66.30,64.29 65.01,65.12 65.40,63.63 64.21,62.66 65.74,62.57" fill="#c4c4c4"/>
<polygon points="66.30,143.02 66.86,144.45 68.39,144.54 67.20,145.52 67.59,147.00 66.30,146.17 65.01,147.00 65.40,145.52 64.21,144.54 65.74,144.45" fill="#c4c4c4"/>
<polygon points="71.75,64.43 72.31,65.87 73.84,65.95 72.65,66.93 73.04,68.41 71.75,67.58 70.46,68.41 70.85,66.93 69.66,65.95 71.19,65.87" fill="#c4c4c4"/>
<polygon points="71.75,137.67 72.31,139.10 73.84,139.19 72.65,140.17 73.04,141.65 71.75,140.82 70.46,141.65 70.85,140.17 69.66,139.19 71.19,139.10" fill="#c4c4c4"/>
<polygon points="77.20,67.73 77.76,69.16 79.29,69.25 78.10,70.22 78.49,71.71 77.20,70.88 75.91,71.71 76.30,70.22 75.11,69.25 76.64,69.16" fill="#c4c4c4"/>
<polygon points="77.20,132.57 77.76,134.00 79.29,134.09 78.10,135.06 78.49,136.55 77.20,135.72 75.91,136.55 76.30,135.06 75.11,134.09 76.64,134.00" fill="#c4c4c4"/>
<polygon points="82.65,70.79 83.21,72.22 84.74,72.31 83.55,73.29 83.94,74.77 82.65,73.94 81.36,74.77 81.75,73.29 80.56,72.31 82.09,72.22" fill="#c4c4c4"/>
<polygon points="82.65,127.63 83.21,129.06 84.74,129.15 83.55,130.13 83.94,131.61 82.65,130.78 81.36,131.61 81.75,130.13 80.56,129.15 82.09,129.06" fill="#c4c4c4"/>
<polygon points="88.10,73.38 88.66,74.81 90.19,74.90 89.00,75.88 89.39,77.36 88.10,76.53 86.81,77.36 87.20,75.88 86.01,74.90 87.54,74.81" fill="#c4c4c4"/>
<polygon points="88.10,122.75 88.66,124.18 90.19,124.27 89.00,125.24 89.39,126.73 88.10,125.90 86.81,126.73 87.20,125.24 86.01,124.27 87.54,124.18" fill="#c4c4c4"/>
<polygon points="101.72,82.10 102.28,83.53 103.82,83.62 102.63,84.59 103.02,86.08 101.72,85.25 100.43,86.08 100.82,84.59 99.63,83.62 101.17,83.53" fill="#c4c4c4"/>
<polygon points="101.72,112.43 102.28,113.86 103.82,113.95 102.63,114.92 103.02,116.41 101.72,115.58 100.43,116.41 100.82,114.92 99.63,113.95 101.17,113.86" fill="#c4c4c4"/>
<polygon points="115.35,90.57 115.91,92.01 117.44,92.09 116.25,93.07 116.64,94.55 115.35,93.72 114.06,94.55 114.45,93.07 113.26,92.09 114.79,92.01" fill="#c4c4c4"/>
<polygon points="115.35,103.61 115.91,105.04 117.44,105.13 116.25,106.10 116.64,107.59 115.35,106.76 114.06,107.59 114.45,106.10 113.26,105.13 114.79,105.04" fill="#c4c4c4"/>
<polygon points="128.97,98.35 129.53,99.78 131.07,99.87 129.88,100.84 130.27,102.33 128.97,101.50 127.68,102.33 128.07,100.84 126.88,99.87 128.42,99.78" fill="#c4c4c4"/>
<polygon points="128.97,95.91 129.53,97.34 131.07,97.43 129.88,98.40 130.27,99.89 128.97,99.06 127.68,99.89 128.07,98.40 126.88,97.43 128.42,97.34" fill="#c4c4c4"/>
<polygon points="142.60,106.59 143.16,108.02 144.69,108.11 143.50,109.08 143.89,110.57 142.60,109.74 141.31,110.57 141.70,109.08 140.51,108.11 142.04,108.02" fill="#c4c4c4"/>
<polygon points="142.60,90.01 143.16,91.44 144.69,91.53 143.50,92.51 143.89,93.99 142.60,93.16 141.31,93.99 141.70,92.51 140.51,91.53 142.04,91.44" fill="#c4c4c4"/>
<polygon points="169.85,120.01 170.41,121.44 171.94,121.53 170.75,122.51 171.14,123.99 169.85,123.16 168.56,123.99 168.95,122.51 167.76,121.53 169.29,121.44" fill="#c4c4c4"/>
<polygon points="169.85,79.98 170.41,81.41 171.94,81.50 170.75,82.47 171.14,83.96 169.85,83.13 168.56,83.96 168.95,82.47 167.76,81.50 169.29,81.41" fill="#c4c4c4"/>
<polygon points="197.10,137.20 197.66,138.63 199.19,138.72 198.00,139.70 198.39,141.18 197.10,140.35 195.81,141.18 196.20,139.70 195.01,138.72 196.54,138.63" fill="#c4c4c4"/>
<polygon points="197.10,79.19 197.66,80.62 199.19,80.71 198.00,81.68 198.39,83.17 197.10,82.34 195.81,83.17 196.20,81.68 195.01,80.71 196.54,80.62" fill="#c4c4c4"/>
<polygon points="224.35,154.63 224.91,156.06 226.44,156.15 225.25,157.12 225.64,158.61 224.35,157.78 223.06,158.61 223.45,157.12 222.26,156.15 223.79,156.06" fill="#c4c4c4"/>
<polygon points="224.35,85.13 224.91,86.56 226.44,86.65 225.25,87.62 225.64,89.11 224.35,88.28 223.06,89.11 223.45,87.62 222.26,86.65 223.79,86.56" fill="#c4c4c4"/>
</g>
<line x1="82.00" y1="16.40" x2="98.40" y2="16.40" stroke="#5aa2f2" stroke-width="1" />
<rect x="88.45" y="14.65" width="3.5" height="3.5" fill="#3a8cf2"/>
<text x="101.70" y="19.70" font-size="9.1" text-anchor="start" fill="#111" stroke="#111" stroke-width="0.25" font-weight="bold" font-style="italic" >PtCo/C-600 BOL</text>
<line x1="82.00" y1="27.80" x2="98.40" y2="27.80" stroke="#5aa2f2" stroke-width="1" stroke-dasharray="1.2 2.4"/>
<rect x="88.45" y="26.05" width="3.5" height="3.5" fill="#3a8cf2"/>
<text x="101.70" y="31.10" font-size="9.1" text-anchor="start" fill="#111" stroke="#111" stroke-width="0.25" font-weight="bold" font-style="italic" >PtCo/C-600 EOL</text>
<line x1="82.00" y1="39.20" x2="98.40" y2="39.20" stroke="#6f9f2e" stroke-width="1" />
<circle cx="90.20" cy="39.20" r="1.85" fill="#5c9a1e"/>
<text x="101.70" y="42.50" font-size="9.1" text-anchor="start" fill="#111" stroke="#111" stroke-width="0.25" font-weight="bold" font-style="italic" >PtCo/C-400 BOL</text>
<line x1="82.00" y1="50.60" x2="98.40" y2="50.60" stroke="#7fae3a" stroke-width="1" stroke-dasharray="1.2 2.4"/>
<circle cx="90.20" cy="50.60" r="1.85" fill="#5c9a1e"/>
<text x="101.70" y="53.90" font-size="9.1" text-anchor="start" fill="#111" stroke="#111" stroke-width="0.25" font-weight="bold" font-style="italic" >PtCo/C-400 EOL</text>
<line x1="82.40" y1="155.80" x2="102.70" y2="155.80" stroke="#888" stroke-width="1" />
<polygon points="92.50,153.60 93.06,155.03 94.59,155.12 93.40,156.09 93.79,157.58 92.50,156.75 91.21,157.58 91.60,156.09 90.41,155.12 91.94,155.03" fill="#777"/>
<text x="106.40" y="159.10" font-size="9.1" text-anchor="start" fill="#111" stroke="#111" stroke-width="0.25" font-weight="bold" font-style="italic" >Pt/C BOL</text>
<line x1="82.40" y1="167.40" x2="102.70" y2="167.40" stroke="#ccc" stroke-width="1" stroke-dasharray="4 3"/>
<polygon points="92.50,165.20 93.06,166.63 94.59,166.72 93.40,167.69 93.79,169.18 92.50,168.35 91.21,169.18 91.60,167.69 90.41,166.72 91.94,166.63" fill="#c0c0c0"/>
<text x="106.40" y="170.70" font-size="9.1" text-anchor="start" fill="#111" stroke="#111" stroke-width="0.25" font-weight="bold" font-style="italic" >Pt/C EOL</text>
<text x="288.50" y="14.30" font-size="15.5" text-anchor="start" fill="#111" stroke="#111" stroke-width="0.25" font-weight="bold" font-style="normal" >b</text>
<line x1="327.11" y1="7.50" x2="327.11" y2="187.30" stroke="#f3f3f3" stroke-width="0.8" />
<line x1="333.84" y1="7.50" x2="333.84" y2="187.30" stroke="#f3f3f3" stroke-width="0.8" />
<line x1="339.53" y1="7.50" x2="339.53" y2="187.30" stroke="#f3f3f3" stroke-width="0.8" />
<line x1="344.46" y1="7.50" x2="344.46" y2="187.30" stroke="#f3f3f3" stroke-width="0.8" />
<line x1="348.81" y1="7.50" x2="348.81" y2="187.30" stroke="#f3f3f3" stroke-width="0.8" />
<line x1="352.70" y1="7.50" x2="352.70" y2="187.30" stroke="#d8d8d8" stroke-width="0.9" />
<line x1="378.29" y1="7.50" x2="378.29" y2="187.30" stroke="#f3f3f3" stroke-width="0.8" />
<line x1="393.26" y1="7.50" x2="393.26" y2="187.30" stroke="#f3f3f3" stroke-width="0.8" />
<line x1="403.88" y1="7.50" x2="403.88" y2="187.30" stroke="#f3f3f3" stroke-width="0.8" />
<line x1="412.11" y1="7.50" x2="412.11" y2="187.30" stroke="#f3f3f3" stroke-width="0.8" />
<line x1="418.84" y1="7.50" x2="418.84" y2="187.30" stroke="#f3f3f3" stroke-width="0.8" />
<line x1="424.53" y1="7.50" x2="424.53" y2="187.30" stroke="#f3f3f3" stroke-width="0.8" />
<line x1="429.46" y1="7.50" x2="429.46" y2="187.30" stroke="#f3f3f3" stroke-width="0.8" />
<line x1="433.81" y1="7.50" x2="433.81" y2="187.30" stroke="#f3f3f3" stroke-width="0.8" />
<line x1="437.70" y1="7.50" x2="437.70" y2="187.30" stroke="#d8d8d8" stroke-width="0.9" />
<line x1="463.29" y1="7.50" x2="463.29" y2="187.30" stroke="#f3f3f3" stroke-width="0.8" />
<line x1="478.26" y1="7.50" x2="478.26" y2="187.30" stroke="#f3f3f3" stroke-width="0.8" />
<line x1="488.88" y1="7.50" x2="488.88" y2="187.30" stroke="#f3f3f3" stroke-width="0.8" />
<line x1="497.11" y1="7.50" x2="497.11" y2="187.30" stroke="#f3f3f3" stroke-width="0.8" />
<line x1="503.84" y1="7.50" x2="503.84" y2="187.30" stroke="#f3f3f3" stroke-width="0.8" />
<line x1="509.53" y1="7.50" x2="509.53" y2="187.30" stroke="#f3f3f3" stroke-width="0.8" />
<line x1="514.46" y1="7.50" x2="514.46" y2="187.30" stroke="#f3f3f3" stroke-width="0.8" />
<line x1="518.81" y1="7.50" x2="518.81" y2="187.30" stroke="#f3f3f3" stroke-width="0.8" />
<line x1="522.70" y1="7.50" x2="522.70" y2="187.30" stroke="#d8d8d8" stroke-width="0.9" />
<line x1="326.20" y1="151.34" x2="548.40" y2="151.34" stroke="#c4c4c4" stroke-width="0.8" stroke-dasharray="1 1.5"/>
<line x1="326.20" y1="115.38" x2="548.40" y2="115.38" stroke="#c4c4c4" stroke-width="0.8" stroke-dasharray="1 1.5"/>
<line x1="326.20" y1="79.42" x2="548.40" y2="79.42" stroke="#c4c4c4" stroke-width="0.8" stroke-dasharray="1 1.5"/>
<line x1="326.20" y1="43.46" x2="548.40" y2="43.46" stroke="#c4c4c4" stroke-width="0.8" stroke-dasharray="1 1.5"/>
<rect x="326.2" y="7.5" width="222.2" height="179.8" fill="none" stroke="#3a3a3a" stroke-width="1.1"/>
<line x1="326.20" y1="187.30" x2="322.70" y2="187.30" stroke="#3a3a3a" stroke-width="1.1" />
<text x="321.00" y="190.40" font-size="9.24" text-anchor="end" fill="#111" stroke="#111" stroke-width="0.25" font-weight="bold" font-style="normal" textLength="12.23" lengthAdjust="spacingAndGlyphs">0.5</text>
<line x1="326.20" y1="169.32" x2="324.20" y2="169.32" stroke="#3a3a3a" stroke-width="1.1" />
<line x1="326.20" y1="151.34" x2="322.70" y2="151.34" stroke="#3a3a3a" stroke-width="1.1" />
<text x="321.00" y="154.44" font-size="9.24" text-anchor="end" fill="#111" stroke="#111" stroke-width="0.25" font-weight="bold" font-style="normal" textLength="12.23" lengthAdjust="spacingAndGlyphs">0.6</text>
<line x1="326.20" y1="133.36" x2="324.20" y2="133.36" stroke="#3a3a3a" stroke-width="1.1" />
<line x1="326.20" y1="115.38" x2="322.70" y2="115.38" stroke="#3a3a3a" stroke-width="1.1" />
<text x="321.00" y="118.48" font-size="9.24" text-anchor="end" fill="#111" stroke="#111" stroke-width="0.25" font-weight="bold" font-style="normal" textLength="12.23" lengthAdjust="spacingAndGlyphs">0.7</text>
<line x1="326.20" y1="97.40" x2="324.20" y2="97.40" stroke="#3a3a3a" stroke-width="1.1" />
<line x1="326.20" y1="79.42" x2="322.70" y2="79.42" stroke="#3a3a3a" stroke-width="1.1" />
<text x="321.00" y="82.52" font-size="9.24" text-anchor="end" fill="#111" stroke="#111" stroke-width="0.25" font-weight="bold" font-style="normal" textLength="12.23" lengthAdjust="spacingAndGlyphs">0.8</text>
<line x1="326.20" y1="61.44" x2="324.20" y2="61.44" stroke="#3a3a3a" stroke-width="1.1" />
<line x1="326.20" y1="43.46" x2="322.70" y2="43.46" stroke="#3a3a3a" stroke-width="1.1" />
<text x="321.00" y="46.56" font-size="9.24" text-anchor="end" fill="#111" stroke="#111" stroke-width="0.25" font-weight="bold" font-style="normal" textLength="12.23" lengthAdjust="spacingAndGlyphs">0.9</text>
<line x1="326.20" y1="25.48" x2="324.20" y2="25.48" stroke="#3a3a3a" stroke-width="1.1" />
<line x1="326.20" y1="7.50" x2="322.70" y2="7.50" stroke="#3a3a3a" stroke-width="1.1" />
<text x="321.00" y="10.60" font-size="9.24" text-anchor="end" fill="#111" stroke="#111" stroke-width="0.25" font-weight="bold" font-style="normal" textLength="12.23" lengthAdjust="spacingAndGlyphs">1.0</text>
<line x1="327.11" y1="187.30" x2="327.11" y2="189.30" stroke="#3a3a3a" stroke-width="1.1" />
<line x1="333.84" y1="187.30" x2="333.84" y2="189.30" stroke="#3a3a3a" stroke-width="1.1" />
<line x1="339.53" y1="187.30" x2="339.53" y2="189.30" stroke="#3a3a3a" stroke-width="1.1" />
<line x1="344.46" y1="187.30" x2="344.46" y2="189.30" stroke="#3a3a3a" stroke-width="1.1" />
<line x1="348.81" y1="187.30" x2="348.81" y2="189.30" stroke="#3a3a3a" stroke-width="1.1" />
<line x1="352.70" y1="187.30" x2="352.70" y2="190.80" stroke="#3a3a3a" stroke-width="1.1" />
<line x1="378.29" y1="187.30" x2="378.29" y2="189.30" stroke="#3a3a3a" stroke-width="1.1" />
<line x1="393.26" y1="187.30" x2="393.26" y2="189.30" stroke="#3a3a3a" stroke-width="1.1" />
<line x1="403.88" y1="187.30" x2="403.88" y2="189.30" stroke="#3a3a3a" stroke-width="1.1" />
<line x1="412.11" y1="187.30" x2="412.11" y2="189.30" stroke="#3a3a3a" stroke-width="1.1" />
<line x1="418.84" y1="187.30" x2="418.84" y2="189.30" stroke="#3a3a3a" stroke-width="1.1" />
<line x1="424.53" y1="187.30" x2="424.53" y2="189.30" stroke="#3a3a3a" stroke-width="1.1" />
<line x1="429.46" y1="187.30" x2="429.46" y2="189.30" stroke="#3a3a3a" stroke-width="1.1" />
<line x1="433.81" y1="187.30" x2="433.81" y2="189.30" stroke="#3a3a3a" stroke-width="1.1" />
<line x1="437.70" y1="187.30" x2="437.70" y2="190.80" stroke="#3a3a3a" stroke-width="1.1" />
<line x1="463.29" y1="187.30" x2="463.29" y2="189.30" stroke="#3a3a3a" stroke-width="1.1" />
<line x1="478.26" y1="187.30" x2="478.26" y2="189.30" stroke="#3a3a3a" stroke-width="1.1" />
<line x1="488.88" y1="187.30" x2="488.88" y2="189.30" stroke="#3a3a3a" stroke-width="1.1" />
<line x1="497.11" y1="187.30" x2="497.11" y2="189.30" stroke="#3a3a3a" stroke-width="1.1" />
<line x1="503.84" y1="187.30" x2="503.84" y2="189.30" stroke="#3a3a3a" stroke-width="1.1" />
<line x1="509.53" y1="187.30" x2="509.53" y2="189.30" stroke="#3a3a3a" stroke-width="1.1" />
<line x1="514.46" y1="187.30" x2="514.46" y2="189.30" stroke="#3a3a3a" stroke-width="1.1" />
<line x1="518.81" y1="187.30" x2="518.81" y2="189.30" stroke="#3a3a3a" stroke-width="1.1" />
<line x1="522.70" y1="187.30" x2="522.70" y2="190.80" stroke="#3a3a3a" stroke-width="1.1" />
<line x1="548.29" y1="187.30" x2="548.29" y2="189.30" stroke="#3a3a3a" stroke-width="1.1" />
<text x="352.70" y="199.60" font-size="9.24" text-anchor="middle" fill="#111" stroke="#111" stroke-width="0.25" font-weight="bold" font-style="normal" textLength="12.23" lengthAdjust="spacingAndGlyphs">0.1</text>
<text x="437.70" y="199.60" font-size="9.24" text-anchor="middle" fill="#111" stroke="#111" stroke-width="0.25" font-weight="bold" font-style="normal" textLength="4.89" lengthAdjust="spacingAndGlyphs">1</text>
<text x="522.70" y="199.60" font-size="9.24" text-anchor="middle" fill="#111" stroke="#111" stroke-width="0.25" font-weight="bold" font-style="normal" textLength="9.79" lengthAdjust="spacingAndGlyphs">10</text>
<text x="437.50" y="214.00" font-size="9.4" text-anchor="middle" fill="#111" stroke="#111" stroke-width="0.25" font-weight="bold" font-style="normal" >Mass activity (A/mg<tspan dy="2.5" font-size="5.5">Pt</tspan><tspan dy="-2.5">)</tspan></text>
<text transform="translate(303.8,96) rotate(-90)" font-size="9.2" text-anchor="middle" fill="#111" stroke="#111" stroke-width="0.25" font-weight="bold">Voltage (V)</text>
<clipPath id="clipb"><rect x="326.2" y="7.5" width="222.2" height="179.8"/></clipPath>
<g clip-path="url(#clipb)">
<line x1="393.26" y1="43.46" x2="488.88" y2="87.33" stroke="#4090f0" stroke-width="1.0" stroke-dasharray="1.2 2.0"/>
<line x1="387.97" y1="43.46" x2="488.88" y2="92.10" stroke="#8ecaf6" stroke-width="1.0" stroke-dasharray="1.2 2.0"/>
<line x1="381.81" y1="43.46" x2="471.52" y2="86.97" stroke="#53721f" stroke-width="1.0" stroke-dasharray="1.2 2.0"/>
<line x1="372.29" y1="43.46" x2="471.52" y2="92.73" stroke="#80b432" stroke-width="1.0" stroke-dasharray="1.2 2.0"/>
<circle cx="412.11" cy="63.60" r="2.1" fill="#80b432"/>
<circle cx="437.70" cy="74.39" r="2.1" fill="#80b432"/>
<circle cx="463.29" cy="88.77" r="2.1" fill="#80b432"/>
<circle cx="471.52" cy="92.73" r="2.1" fill="#80b432"/>
<circle cx="478.26" cy="95.96" r="2.1" fill="#80b432"/>
<circle cx="488.88" cy="102.07" r="2.1" fill="#80b432"/>
<circle cx="497.11" cy="107.11" r="2.1" fill="#80b432"/>
<circle cx="503.84" cy="111.78" r="2.1" fill="#80b432"/>
<circle cx="509.53" cy="115.74" r="2.1" fill="#80b432"/>
<circle cx="514.46" cy="120.41" r="2.1" fill="#80b432"/>
<circle cx="518.81" cy="124.73" r="2.1" fill="#80b432"/>
<circle cx="522.70" cy="129.76" r="2.1" fill="#80b432"/>
<circle cx="530.94" cy="141.27" r="2.1" fill="#80b432"/>
<circle cx="537.67" cy="152.42" r="2.1" fill="#80b432"/>
<circle cx="543.36" cy="162.85" r="2.1" fill="#80b432"/>
<circle cx="548.29" cy="172.92" r="2.1" fill="#80b432"/>
<circle cx="552.64" cy="183.70" r="2.1" fill="#80b432"/>
<circle cx="412.11" cy="58.20" r="2.1" fill="#53721f"/>
<circle cx="437.70" cy="69.35" r="2.1" fill="#53721f"/>
<circle cx="463.29" cy="83.38" r="2.1" fill="#53721f"/>
<circle cx="471.52" cy="86.97" r="2.1" fill="#53721f"/>
<circle cx="478.26" cy="89.85" r="2.1" fill="#53721f"/>
<circle cx="488.88" cy="95.96" r="2.1" fill="#53721f"/>
<circle cx="497.11" cy="100.28" r="2.1" fill="#53721f"/>
<circle cx="503.84" cy="104.95" r="2.1" fill="#53721f"/>
<circle cx="509.53" cy="109.27" r="2.1" fill="#53721f"/>
<circle cx="514.46" cy="113.58" r="2.1" fill="#53721f"/>
<circle cx="518.81" cy="117.54" r="2.1" fill="#53721f"/>
<circle cx="522.70" cy="120.77" r="2.1" fill="#53721f"/>
<circle cx="530.94" cy="131.56" r="2.1" fill="#53721f"/>
<circle cx="537.67" cy="141.63" r="2.1" fill="#53721f"/>
<circle cx="543.36" cy="150.98" r="2.1" fill="#53721f"/>
<circle cx="548.29" cy="160.33" r="2.1" fill="#53721f"/>
<circle cx="552.64" cy="169.32" r="2.1" fill="#53721f"/>
<rect x="410.21" y="50.55" width="3.8" height="3.8" fill="#4090f0"/>
<rect x="435.80" y="60.62" width="3.8" height="3.8" fill="#4090f0"/>
<rect x="461.39" y="72.49" width="3.8" height="3.8" fill="#4090f0"/>
<rect x="469.62" y="76.80" width="3.8" height="3.8" fill="#4090f0"/>
<rect x="476.36" y="79.68" width="3.8" height="3.8" fill="#4090f0"/>
<rect x="486.98" y="85.43" width="3.8" height="3.8" fill="#4090f0"/>
<rect x="495.21" y="90.83" width="3.8" height="3.8" fill="#4090f0"/>
<rect x="501.94" y="95.14" width="3.8" height="3.8" fill="#4090f0"/>
<rect x="507.63" y="99.10" width="3.8" height="3.8" fill="#4090f0"/>
<rect x="512.56" y="103.05" width="3.8" height="3.8" fill="#4090f0"/>
<rect x="516.91" y="107.37" width="3.8" height="3.8" fill="#4090f0"/>
<rect x="520.80" y="110.60" width="3.8" height="3.8" fill="#4090f0"/>
<rect x="529.04" y="119.95" width="3.8" height="3.8" fill="#4090f0"/>
<rect x="535.77" y="129.30" width="3.8" height="3.8" fill="#4090f0"/>
<rect x="541.46" y="137.93" width="3.8" height="3.8" fill="#4090f0"/>
<rect x="546.39" y="146.56" width="3.8" height="3.8" fill="#4090f0"/>
<rect x="550.74" y="154.83" width="3.8" height="3.8" fill="#4090f0"/>
<rect x="410.21" y="54.51" width="3.8" height="3.8" fill="#8ecaf6"/>
<rect x="435.80" y="64.57" width="3.8" height="3.8" fill="#8ecaf6"/>
<rect x="461.39" y="76.44" width="3.8" height="3.8" fill="#8ecaf6"/>
<rect x="469.62" y="81.03" width="3.8" height="3.8" fill="#8ecaf6"/>
<rect x="476.36" y="84.17" width="3.8" height="3.8" fill="#8ecaf6"/>
<rect x="486.98" y="90.20" width="3.8" height="3.8" fill="#8ecaf6"/>
<rect x="495.21" y="95.86" width="3.8" height="3.8" fill="#8ecaf6"/>
<rect x="501.94" y="100.17" width="3.8" height="3.8" fill="#8ecaf6"/>
<rect x="507.63" y="104.13" width="3.8" height="3.8" fill="#8ecaf6"/>
<rect x="512.56" y="108.09" width="3.8" height="3.8" fill="#8ecaf6"/>
<rect x="516.91" y="112.40" width="3.8" height="3.8" fill="#8ecaf6"/>
<rect x="520.80" y="114.20" width="3.8" height="3.8" fill="#8ecaf6"/>
<rect x="529.04" y="124.63" width="3.8" height="3.8" fill="#8ecaf6"/>
<rect x="535.77" y="136.49" width="3.8" height="3.8" fill="#8ecaf6"/>
<rect x="541.46" y="146.56" width="3.8" height="3.8" fill="#8ecaf6"/>
<rect x="546.39" y="155.55" width="3.8" height="3.8" fill="#8ecaf6"/>
<rect x="550.74" y="165.62" width="3.8" height="3.8" fill="#8ecaf6"/>
</g>
<polygon points="372.29,40.36 373.11,42.33 375.24,42.50 373.61,43.89 374.11,45.97 372.29,44.86 370.47,45.97 370.96,43.89 369.34,42.50 371.47,42.33" fill="#80b432"/>
<polygon points="381.81,40.36 382.63,42.33 384.75,42.50 383.13,43.89 383.63,45.97 381.81,44.86 379.98,45.97 380.48,43.89 378.86,42.50 380.99,42.33" fill="#53721f"/>
<polygon points="387.97,40.36 388.79,42.33 390.92,42.50 389.30,43.89 389.79,45.97 387.97,44.86 386.15,45.97 386.65,43.89 385.02,42.50 387.15,42.33" fill="#8ecaf6"/>
<polygon points="393.26,40.36 394.08,42.33 396.20,42.50 394.58,43.89 395.08,45.97 393.26,44.86 391.43,45.97 391.93,43.89 390.31,42.50 392.44,42.33" fill="#3a6cc4"/>
<text x="330.50" y="25.40" font-size="9.2" text-anchor="start" fill="#6db8f2" stroke="#6db8f2" stroke-width="0.25" font-weight="bold" font-style="normal" >0.26 A/mg<tspan dy="2.5" font-size="5.5">Pt</tspan></text>
<text x="394.00" y="37.30" font-size="9.2" text-anchor="start" fill="#4490ee" stroke="#4490ee" stroke-width="0.25" font-weight="bold" font-style="normal" >0.30 A/mg<tspan dy="2.5" font-size="5.5">Pt</tspan></text>
<text x="349.00" y="62.40" font-size="9.2" text-anchor="start" fill="#5a7a22" stroke="#5a7a22" stroke-width="0.25" font-weight="bold" font-style="normal" >0.22 A/mg<tspan dy="2.5" font-size="5.5">Pt</tspan></text>
<text x="328.60" y="81.70" font-size="9.2" text-anchor="start" fill="#88b83a" stroke="#88b83a" stroke-width="0.25" font-weight="bold" font-style="normal" >0.17 A/mg<tspan dy="2.5" font-size="5.5">Pt</tspan></text>
<line x1="382.20" y1="26.90" x2="391.80" y2="30.20" stroke="#3a6cc4" stroke-width="1.1" />
<polygon points="382.20,26.90 385.75,26.43 384.71,29.45" fill="#3a6cc4"/>
<line x1="362.00" y1="71.00" x2="367.20" y2="65.30" stroke="#6a9a2a" stroke-width="1.1" />
<polygon points="362.00,71.00 362.97,67.56 365.34,69.71" fill="#6a9a2a"/>
<rect x="347.2" y="132.7" width="95" height="47.8" fill="#fff" stroke="#a8a8a8" stroke-width="0.9"/>
<circle cx="357.9" cy="139.20" r="2.1" fill="#53721f"/>
<text x="370.00" y="142.50" font-size="9.2" text-anchor="start" fill="#111" stroke="#111" stroke-width="0.25" font-weight="bold" font-style="normal" >PtCo/C-400 BOL</text>
<circle cx="357.9" cy="150.70" r="2.1" fill="#80b432"/>
<text x="370.00" y="154.00" font-size="9.2" text-anchor="start" fill="#111" stroke="#111" stroke-width="0.25" font-weight="bold" font-style="normal" >PtCo/C-400 EOL</text>
<rect x="356.10" y="160.40" width="3.6" height="3.6" fill="#4090f0"/>
<text x="370.00" y="165.50" font-size="9.2" text-anchor="start" fill="#111" stroke="#111" stroke-width="0.25" font-weight="bold" font-style="normal" >PtCo/C-600 BOL</text>
<rect x="356.10" y="171.90" width="3.6" height="3.6" fill="#8ecaf6"/>
<text x="370.00" y="177.00" font-size="9.2" text-anchor="start" fill="#111" stroke="#111" stroke-width="0.25" font-weight="bold" font-style="normal" >PtCo/C-600 EOL</text>
<text x="5.00" y="234.80" font-size="16" text-anchor="start" fill="#111" stroke="#111" stroke-width="0.25" font-weight="bold" font-style="normal" >c</text>
<rect x="40.4" y="233.4" width="217.79999999999998" height="176.6" fill="none" stroke="#3a3a3a" stroke-width="1.1"/>
<line x1="40.40" y1="410.00" x2="40.40" y2="407.00" stroke="#3a3a3a" stroke-width="1.1" />
<text x="40.40" y="420.30" font-size="9.03" text-anchor="middle" fill="#111" stroke="#111" stroke-width="0.25" font-weight="bold" font-style="normal" textLength="11.95" lengthAdjust="spacingAndGlyphs">0.0</text>
<line x1="60.15" y1="410.00" x2="60.15" y2="408.20" stroke="#3a3a3a" stroke-width="1.1" />
<line x1="79.90" y1="410.00" x2="79.90" y2="407.00" stroke="#3a3a3a" stroke-width="1.1" />
<text x="79.90" y="420.30" font-size="9.03" text-anchor="middle" fill="#111" stroke="#111" stroke-width="0.25" font-weight="bold" font-style="normal" textLength="11.95" lengthAdjust="spacingAndGlyphs">0.2</text>
<line x1="99.65" y1="410.00" x2="99.65" y2="408.20" stroke="#3a3a3a" stroke-width="1.1" />
<line x1="119.40" y1="410.00" x2="119.40" y2="407.00" stroke="#3a3a3a" stroke-width="1.1" />
<text x="119.40" y="420.30" font-size="9.03" text-anchor="middle" fill="#111" stroke="#111" stroke-width="0.25" font-weight="bold" font-style="normal" textLength="11.95" lengthAdjust="spacingAndGlyphs">0.4</text>
<line x1="139.15" y1="410.00" x2="139.15" y2="408.20" stroke="#3a3a3a" stroke-width="1.1" />
<line x1="158.90" y1="410.00" x2="158.90" y2="407.00" stroke="#3a3a3a" stroke-width="1.1" />
<text x="158.90" y="420.30" font-size="9.03" text-anchor="middle" fill="#111" stroke="#111" stroke-width="0.25" font-weight="bold" font-style="normal" textLength="11.95" lengthAdjust="spacingAndGlyphs">0.6</text>
<line x1="178.65" y1="410.00" x2="178.65" y2="408.20" stroke="#3a3a3a" stroke-width="1.1" />
<line x1="198.40" y1="410.00" x2="198.40" y2="407.00" stroke="#3a3a3a" stroke-width="1.1" />
<text x="198.40" y="420.30" font-size="9.03" text-anchor="middle" fill="#111" stroke="#111" stroke-width="0.25" font-weight="bold" font-style="normal" textLength="11.95" lengthAdjust="spacingAndGlyphs">0.8</text>
<line x1="218.15" y1="410.00" x2="218.15" y2="408.20" stroke="#3a3a3a" stroke-width="1.1" />
<line x1="237.90" y1="410.00" x2="237.90" y2="407.00" stroke="#3a3a3a" stroke-width="1.1" />
<text x="237.90" y="420.30" font-size="9.03" text-anchor="middle" fill="#111" stroke="#111" stroke-width="0.25" font-weight="bold" font-style="normal" textLength="11.95" lengthAdjust="spacingAndGlyphs">1.0</text>
<line x1="257.65" y1="410.00" x2="257.65" y2="408.20" stroke="#3a3a3a" stroke-width="1.1" />
<line x1="40.40" y1="233.25" x2="43.40" y2="233.25" stroke="#3a3a3a" stroke-width="1.1" />
<text x="37.20" y="235.95" font-size="9.03" text-anchor="end" fill="#111" stroke="#111" stroke-width="0.25" font-weight="bold" font-style="normal" textLength="9.56" lengthAdjust="spacingAndGlyphs">15</text>
<line x1="40.40" y1="247.98" x2="42.20" y2="247.98" stroke="#3a3a3a" stroke-width="1.1" />
<line x1="40.40" y1="262.70" x2="43.40" y2="262.70" stroke="#3a3a3a" stroke-width="1.1" />
<text x="37.20" y="265.40" font-size="9.03" text-anchor="end" fill="#111" stroke="#111" stroke-width="0.25" font-weight="bold" font-style="normal" textLength="9.56" lengthAdjust="spacingAndGlyphs">10</text>
<line x1="40.40" y1="277.43" x2="42.20" y2="277.43" stroke="#3a3a3a" stroke-width="1.1" />
<line x1="40.40" y1="292.15" x2="43.40" y2="292.15" stroke="#3a3a3a" stroke-width="1.1" />
<text x="37.20" y="294.85" font-size="9.03" text-anchor="end" fill="#111" stroke="#111" stroke-width="0.25" font-weight="bold" font-style="normal" textLength="4.78" lengthAdjust="spacingAndGlyphs">5</text>
<line x1="40.40" y1="306.88" x2="42.20" y2="306.88" stroke="#3a3a3a" stroke-width="1.1" />
<line x1="40.40" y1="321.60" x2="43.40" y2="321.60" stroke="#3a3a3a" stroke-width="1.1" />
<text x="37.20" y="324.30" font-size="9.03" text-anchor="end" fill="#111" stroke="#111" stroke-width="0.25" font-weight="bold" font-style="normal" textLength="4.78" lengthAdjust="spacingAndGlyphs">0</text>
<line x1="40.40" y1="336.33" x2="42.20" y2="336.33" stroke="#3a3a3a" stroke-width="1.1" />
<line x1="40.40" y1="351.05" x2="43.40" y2="351.05" stroke="#3a3a3a" stroke-width="1.1" />
<text x="37.20" y="353.75" font-size="9.03" text-anchor="end" fill="#111" stroke="#111" stroke-width="0.25" font-weight="bold" font-style="normal" textLength="7.65" lengthAdjust="spacingAndGlyphs">-5</text>
<line x1="40.40" y1="365.78" x2="42.20" y2="365.78" stroke="#3a3a3a" stroke-width="1.1" />
<line x1="40.40" y1="380.50" x2="43.40" y2="380.50" stroke="#3a3a3a" stroke-width="1.1" />
<text x="37.20" y="383.20" font-size="9.03" text-anchor="end" fill="#111" stroke="#111" stroke-width="0.25" font-weight="bold" font-style="normal" textLength="12.43" lengthAdjust="spacingAndGlyphs">-10</text>
<line x1="40.40" y1="395.23" x2="42.20" y2="395.23" stroke="#3a3a3a" stroke-width="1.1" />
<line x1="40.40" y1="409.95" x2="43.40" y2="409.95" stroke="#3a3a3a" stroke-width="1.1" />
<text x="37.20" y="412.65" font-size="9.03" text-anchor="end" fill="#111" stroke="#111" stroke-width="0.25" font-weight="bold" font-style="normal" textLength="12.43" lengthAdjust="spacingAndGlyphs">-15</text>
<text x="149.10" y="435.40" font-size="9.3" text-anchor="middle" fill="#111" stroke="#111" stroke-width="0.25" font-weight="bold" font-style="normal" >Voltage (V)</text>
<text transform="translate(23.2,322.0) rotate(-90)" font-size="8.9" text-anchor="middle" fill="#111" stroke="#111" stroke-width="0.25" font-weight="bold">Current density (mA/cm<tspan dy="-3" font-size="6">2</tspan><tspan dy="3">)</tspan></text>
<polyline points="55.80,380.79 56.02,376.05 56.33,369.29 56.69,361.38 57.08,353.21 57.45,345.64 57.78,339.56 58.07,335.01 58.34,331.27 58.59,328.14 58.85,325.41 59.10,322.87 59.36,320.30 59.62,317.79 59.88,315.51 60.14,313.42 60.40,311.46 60.67,309.59 60.94,307.76 61.21,306.02 61.48,304.44 61.75,302.94 62.04,301.46 62.36,299.95 62.72,298.33 63.11,296.51 63.54,294.51 64.00,292.46 64.48,290.52 64.98,288.82 65.48,287.50 65.99,286.64 66.51,286.15 67.04,285.90 67.60,285.77 68.19,285.61 68.84,285.32 69.54,284.88 70.30,284.42 71.09,283.93 71.90,283.45 72.74,282.98 73.58,282.55 74.43,282.15 75.31,281.78 76.20,281.42 77.10,281.07 78.01,280.72 78.91,280.37 79.81,279.97 80.69,279.52 81.58,279.08 82.49,278.68 83.44,278.39 84.44,278.25 85.52,278.33 86.67,278.62 87.86,279.00 89.06,279.39 90.23,279.68 91.35,279.78 92.43,279.60 93.49,279.20 94.53,278.71 95.54,278.24 96.52,277.91 97.48,277.84 98.40,278.03 99.30,278.38 100.17,278.87 101.01,279.48 101.83,280.19 102.61,280.96 103.35,281.87 104.05,282.96 104.71,284.14 105.37,285.33 106.05,286.46 106.76,287.44 107.52,288.29 108.30,289.06 109.09,289.78 109.90,290.43 110.70,291.02 111.50,291.56 112.18,292.04 112.74,292.46 113.30,292.81 113.99,293.12 114.92,293.39 116.24,293.62 118.06,293.83 120.32,294.00 122.83,294.14 125.41,294.22 127.88,294.25 130.06,294.21 131.71,294.14 132.93,294.04 134.03,293.88 135.35,293.63 137.21,293.26 139.94,292.74 143.78,291.99 148.51,291.04 153.78,289.96 159.24,288.85 164.56,287.78 169.37,286.85 173.82,286.09 178.23,285.44 182.48,284.84 186.47,284.23 190.10,283.55 193.27,282.73 195.88,281.70 198.03,280.49 199.81,279.21 201.34,277.96 202.74,276.84 204.13,275.95 205.44,275.35 206.56,274.97 207.56,274.72 208.47,274.51 209.35,274.27 210.25,273.89 211.13,273.35 211.93,272.71 212.71,272.03 213.48,271.37 214.30,270.79 215.19,270.36 216.14,270.07 217.11,269.89 218.13,269.79 219.19,269.75 220.31,269.75 221.51,269.77 222.80,269.83 224.20,269.94 225.66,270.10 227.13,270.28 228.59,270.47 230.00,270.65 231.44,270.84 232.97,271.07 234.48,271.30 235.87,271.51 237.05,271.70 237.90,271.83 237.84,273.94 237.78,276.92 237.69,280.43 237.59,284.08 237.46,287.52 237.31,290.38 237.15,292.69 236.98,294.74 236.79,296.57 236.56,298.24 236.28,299.79 235.93,301.28 235.54,302.71 235.15,304.05 234.70,305.27 234.15,306.36 233.46,307.30 232.57,308.05 231.53,308.52 230.40,308.70 229.11,308.72 227.63,308.73 225.90,308.85 223.88,309.23 221.41,309.92 218.51,310.82 215.36,311.83 212.15,312.88 209.07,313.87 206.30,314.71 203.94,315.46 201.87,316.21 199.92,316.90 197.94,317.47 195.77,317.88 193.27,318.07 190.44,317.98 187.41,317.65 184.20,317.15 180.82,316.57 177.25,315.96 173.52,315.42 169.44,314.88 165.00,314.27 160.38,313.65 155.78,313.06 151.41,312.55 147.44,312.18 143.98,311.94 140.85,311.82 137.95,311.77 135.14,311.78 132.29,311.83 129.28,311.88 125.96,311.93 122.44,311.99 118.87,312.08 115.44,312.23 112.33,312.45 109.72,312.77 107.67,313.15 106.04,313.60 104.74,314.12 103.64,314.73 102.64,315.45 101.62,316.30 100.70,317.32 99.97,318.52 99.34,319.83 98.71,321.18 97.99,322.52 97.08,323.78 95.95,324.99 94.68,326.22 93.31,327.43 91.90,328.60 90.50,329.71 89.18,330.73 87.91,331.69 86.63,332.60 85.37,333.45 84.14,334.22 82.97,334.89 81.88,335.44 80.90,335.85 80.05,336.11 79.25,336.27 78.44,336.38 77.56,336.48 76.54,336.62 75.34,336.74 73.97,336.80 72.54,336.86 71.12,336.96 69.79,337.15 68.64,337.50 67.67,338.03 66.81,338.70 66.04,339.47 65.34,340.30 64.70,341.13 64.10,341.92 63.56,342.64 63.09,343.32 62.68,344.00 62.30,344.75 61.93,345.61 61.53,346.63 61.12,347.85 60.70,349.23 60.29,350.72 59.89,352.28 59.51,353.88 59.16,355.47 58.86,356.99 58.58,358.48 58.34,360.00 58.09,361.62 57.85,363.42 57.58,365.48 57.28,368.05 56.94,371.11 56.60,374.35 56.27,377.46 56.00,380.10 55.80,381.97" fill="none" stroke="#4a93ef" stroke-width="1.7" stroke-linejoin="round" stroke-dasharray="0.1 4.8" stroke-linecap="round"/>
<polyline points="55.80,380.50 56.02,375.76 56.33,369.00 56.69,361.09 57.08,352.91 57.45,345.35 57.78,339.27 58.07,334.71 58.34,330.97 58.59,327.85 58.85,325.12 59.10,322.58 59.36,320.01 59.62,317.49 59.88,315.21 60.14,313.12 60.40,311.17 60.67,309.30 60.94,307.46 61.21,305.73 61.48,304.14 61.75,302.65 62.04,301.17 62.36,299.66 62.72,298.04 63.11,296.25 63.54,294.33 64.00,292.37 64.48,290.47 64.98,288.71 65.48,287.20 65.99,285.96 66.51,284.90 67.04,283.99 67.60,283.19 68.19,282.47 68.84,281.78 69.54,281.16 70.30,280.64 71.09,280.20 71.90,279.80 72.74,279.41 73.58,279.02 74.43,278.62 75.31,278.24 76.20,277.89 77.10,277.54 78.01,277.19 78.91,276.84 79.81,276.44 80.69,275.99 81.58,275.54 82.49,275.15 83.44,274.86 84.44,274.72 85.52,274.80 86.67,275.08 87.86,275.47 89.06,275.86 90.23,276.15 91.35,276.25 92.43,276.07 93.49,275.67 94.53,275.18 95.54,274.70 96.52,274.37 97.48,274.30 98.40,274.50 99.30,274.87 100.17,275.37 101.01,275.99 101.83,276.69 102.61,277.43 103.35,278.27 104.05,279.25 104.71,280.31 105.37,281.38 106.05,282.40 106.76,283.32 107.52,284.13 108.30,284.90 109.09,285.62 109.90,286.28 110.70,286.89 111.50,287.44 112.18,287.92 112.74,288.33 113.30,288.69 113.99,289.00 114.92,289.26 116.24,289.50 118.06,289.71 120.32,289.88 122.83,290.01 125.41,290.10 127.88,290.13 130.06,290.09 131.71,290.01 132.93,289.91 134.03,289.76 135.35,289.51 137.21,289.14 139.94,288.62 143.78,287.87 148.51,286.91 153.78,285.84 159.24,284.72 164.56,283.66 169.37,282.73 173.82,281.97 178.23,281.32 182.48,280.72 186.47,280.11 190.10,279.42 193.27,278.60 195.88,277.61 198.03,276.48 199.81,275.27 201.34,274.05 202.74,272.89 204.13,271.83 205.44,270.88 206.56,269.98 207.56,269.12 208.47,268.32 209.35,267.55 210.25,266.82 211.13,266.11 211.93,265.43 212.71,264.78 213.48,264.19 214.30,263.69 215.19,263.29 216.14,263.00 217.11,262.82 218.13,262.72 219.19,262.68 220.31,262.68 221.51,262.70 222.80,262.76 224.20,262.87 225.66,263.03 227.13,263.21 228.59,263.40 230.00,263.58 231.44,263.78 232.97,264.00 234.48,264.23 235.87,264.45 237.05,264.63 237.90,264.76 237.84,266.80 237.78,269.68 237.69,273.06 237.59,276.60 237.46,279.93 237.31,282.73 237.15,285.00 236.98,287.03 236.79,288.87 236.56,290.56 236.28,292.13 235.93,293.62 235.54,295.02 235.15,296.28 234.70,297.43 234.15,298.49 233.46,299.47 232.57,300.40 231.53,301.22 230.40,301.92 229.11,302.54 227.63,303.14 225.90,303.78 223.88,304.52 221.41,305.38 218.51,306.32 215.36,307.31 212.15,308.28 209.07,309.19 206.30,310.00 203.94,310.75 201.87,311.50 199.92,312.18 197.94,312.76 195.77,313.17 193.27,313.35 190.44,313.27 187.41,312.94 184.20,312.44 180.82,311.85 177.25,311.25 173.52,310.70 169.44,310.16 165.00,309.56 160.38,308.94 155.78,308.35 151.41,307.84 147.44,307.46 143.98,307.23 140.85,307.10 137.95,307.06 135.14,307.07 132.29,307.12 129.28,307.17 125.96,307.19 122.44,307.19 118.87,307.22 115.44,307.34 112.33,307.60 109.72,308.05 107.67,308.73 106.04,309.59 104.74,310.59 103.64,311.68 102.64,312.81 101.62,313.94 100.70,315.09 99.97,316.31 99.34,317.56 98.71,318.84 97.99,320.14 97.08,321.42 95.95,322.74 94.68,324.12 93.31,325.51 91.90,326.86 90.50,328.13 89.18,329.26 87.91,330.26 86.63,331.19 85.37,332.03 84.14,332.78 82.97,333.42 81.88,333.97 80.90,334.37 80.05,334.63 79.25,334.80 78.44,334.91 77.56,335.01 76.54,335.15 75.34,335.27 73.97,335.33 72.54,335.39 71.12,335.49 69.79,335.68 68.64,336.03 67.67,336.56 66.81,337.23 66.04,338.00 65.34,338.82 64.70,339.65 64.10,340.45 63.56,341.17 63.09,341.84 62.68,342.53 62.30,343.27 61.93,344.13 61.53,345.16 61.12,346.38 60.70,347.76 60.29,349.25 59.89,350.81 59.51,352.41 59.16,354.00 58.86,355.52 58.58,357.01 58.34,358.52 58.09,360.15 57.85,361.95 57.58,364.01 57.28,366.57 56.94,369.64 56.60,372.88 56.27,375.98 56.00,378.63 55.80,380.50" fill="none" stroke="#4a93ef" stroke-width="1.25" stroke-linejoin="round" />
<line x1="154.20" y1="382.80" x2="174.40" y2="382.80" stroke="#4a93ef" stroke-width="1.4" />
<line x1="154.20" y1="395.10" x2="174.40" y2="395.10" stroke="#4a93ef" stroke-width="1.8" stroke-dasharray="0.1 6.4" stroke-linecap="round"/>
<text x="177.30" y="386.00" font-size="9.1" text-anchor="start" fill="#111" stroke="#111" stroke-width="0.25" font-weight="bold" font-style="normal" >PtCo/C-600 BOL</text>
<text x="177.30" y="398.30" font-size="9.1" text-anchor="start" fill="#111" stroke="#111" stroke-width="0.25" font-weight="bold" font-style="normal" >PtCo/C-600 EOL</text>
<text x="287.50" y="236.00" font-size="16" text-anchor="start" fill="#111" stroke="#111" stroke-width="0.25" font-weight="bold" font-style="normal" >d</text>
<rect x="323.8" y="234.5" width="221.90000000000003" height="180.0" fill="none" stroke="#3a3a3a" stroke-width="1.1"/>
<line x1="323.80" y1="414.50" x2="323.80" y2="411.50" stroke="#3a3a3a" stroke-width="1.1" />
<text x="323.80" y="425.80" font-size="9.03" text-anchor="middle" fill="#111" stroke="#111" stroke-width="0.25" font-weight="bold" font-style="normal" textLength="11.95" lengthAdjust="spacingAndGlyphs">0.0</text>
<line x1="343.85" y1="414.50" x2="343.85" y2="412.70" stroke="#3a3a3a" stroke-width="1.1" />
<line x1="363.90" y1="414.50" x2="363.90" y2="411.50" stroke="#3a3a3a" stroke-width="1.1" />
<text x="363.90" y="425.80" font-size="9.03" text-anchor="middle" fill="#111" stroke="#111" stroke-width="0.25" font-weight="bold" font-style="normal" textLength="11.95" lengthAdjust="spacingAndGlyphs">0.2</text>
<line x1="383.95" y1="414.50" x2="383.95" y2="412.70" stroke="#3a3a3a" stroke-width="1.1" />
<line x1="404.00" y1="414.50" x2="404.00" y2="411.50" stroke="#3a3a3a" stroke-width="1.1" />
<text x="404.00" y="425.80" font-size="9.03" text-anchor="middle" fill="#111" stroke="#111" stroke-width="0.25" font-weight="bold" font-style="normal" textLength="11.95" lengthAdjust="spacingAndGlyphs">0.4</text>
<line x1="424.05" y1="414.50" x2="424.05" y2="412.70" stroke="#3a3a3a" stroke-width="1.1" />
<line x1="444.10" y1="414.50" x2="444.10" y2="411.50" stroke="#3a3a3a" stroke-width="1.1" />
<text x="444.10" y="425.80" font-size="9.03" text-anchor="middle" fill="#111" stroke="#111" stroke-width="0.25" font-weight="bold" font-style="normal" textLength="11.95" lengthAdjust="spacingAndGlyphs">0.6</text>
<line x1="464.15" y1="414.50" x2="464.15" y2="412.70" stroke="#3a3a3a" stroke-width="1.1" />
<line x1="484.20" y1="414.50" x2="484.20" y2="411.50" stroke="#3a3a3a" stroke-width="1.1" />
<text x="484.20" y="425.80" font-size="9.03" text-anchor="middle" fill="#111" stroke="#111" stroke-width="0.25" font-weight="bold" font-style="normal" textLength="11.95" lengthAdjust="spacingAndGlyphs">0.8</text>
<line x1="504.25" y1="414.50" x2="504.25" y2="412.70" stroke="#3a3a3a" stroke-width="1.1" />
<line x1="524.30" y1="414.50" x2="524.30" y2="411.50" stroke="#3a3a3a" stroke-width="1.1" />
<text x="524.30" y="425.80" font-size="9.03" text-anchor="middle" fill="#111" stroke="#111" stroke-width="0.25" font-weight="bold" font-style="normal" textLength="11.95" lengthAdjust="spacingAndGlyphs">1.0</text>
<line x1="544.35" y1="414.50" x2="544.35" y2="412.70" stroke="#3a3a3a" stroke-width="1.1" />
<line x1="323.80" y1="234.38" x2="326.80" y2="234.38" stroke="#3a3a3a" stroke-width="1.1" />
<text x="320.60" y="237.07" font-size="9.03" text-anchor="end" fill="#111" stroke="#111" stroke-width="0.25" font-weight="bold" font-style="normal" textLength="9.56" lengthAdjust="spacingAndGlyphs">15</text>
<line x1="323.80" y1="250.79" x2="325.60" y2="250.79" stroke="#3a3a3a" stroke-width="1.1" />
<line x1="323.80" y1="267.20" x2="326.80" y2="267.20" stroke="#3a3a3a" stroke-width="1.1" />
<text x="320.60" y="269.90" font-size="9.03" text-anchor="end" fill="#111" stroke="#111" stroke-width="0.25" font-weight="bold" font-style="normal" textLength="9.56" lengthAdjust="spacingAndGlyphs">10</text>
<line x1="323.80" y1="283.61" x2="325.60" y2="283.61" stroke="#3a3a3a" stroke-width="1.1" />
<line x1="323.80" y1="300.03" x2="326.80" y2="300.03" stroke="#3a3a3a" stroke-width="1.1" />
<text x="320.60" y="302.73" font-size="9.03" text-anchor="end" fill="#111" stroke="#111" stroke-width="0.25" font-weight="bold" font-style="normal" textLength="4.78" lengthAdjust="spacingAndGlyphs">5</text>
<line x1="323.80" y1="316.44" x2="325.60" y2="316.44" stroke="#3a3a3a" stroke-width="1.1" />
<line x1="323.80" y1="332.85" x2="326.80" y2="332.85" stroke="#3a3a3a" stroke-width="1.1" />
<text x="320.60" y="335.55" font-size="9.03" text-anchor="end" fill="#111" stroke="#111" stroke-width="0.25" font-weight="bold" font-style="normal" textLength="4.78" lengthAdjust="spacingAndGlyphs">0</text>
<line x1="323.80" y1="349.26" x2="325.60" y2="349.26" stroke="#3a3a3a" stroke-width="1.1" />
<line x1="323.80" y1="365.68" x2="326.80" y2="365.68" stroke="#3a3a3a" stroke-width="1.1" />
<text x="320.60" y="368.38" font-size="9.03" text-anchor="end" fill="#111" stroke="#111" stroke-width="0.25" font-weight="bold" font-style="normal" textLength="7.65" lengthAdjust="spacingAndGlyphs">-5</text>
<line x1="323.80" y1="382.09" x2="325.60" y2="382.09" stroke="#3a3a3a" stroke-width="1.1" />
<line x1="323.80" y1="398.50" x2="326.80" y2="398.50" stroke="#3a3a3a" stroke-width="1.1" />
<text x="320.60" y="401.20" font-size="9.03" text-anchor="end" fill="#111" stroke="#111" stroke-width="0.25" font-weight="bold" font-style="normal" textLength="12.43" lengthAdjust="spacingAndGlyphs">-10</text>
<line x1="323.80" y1="414.91" x2="325.60" y2="414.91" stroke="#3a3a3a" stroke-width="1.1" />
<text x="434.90" y="438.10" font-size="9.3" text-anchor="middle" fill="#111" stroke="#111" stroke-width="0.25" font-weight="bold" font-style="normal" >Voltage&#160;&#160;(V)</text>
<text transform="translate(304.4,318.7) rotate(-90)" font-size="9.2" text-anchor="middle" fill="#111" stroke="#111" stroke-width="0.25" font-weight="bold">Current density (mA/cm<tspan dy="-3" font-size="6">2</tspan><tspan dy="3">)</tspan></text>
<polyline points="339.64,397.52 339.84,393.16 340.11,387.01 340.43,379.79 340.78,372.20 341.12,364.96 341.44,358.78 341.74,353.58 342.05,348.76 342.35,344.30 342.65,340.13 342.95,336.22 343.25,332.52 343.55,329.08 343.84,325.96 344.14,323.08 344.44,320.41 344.74,317.89 345.05,315.45 345.36,313.18 345.65,311.14 345.96,309.24 346.28,307.40 346.64,305.56 347.06,303.64 347.54,301.55 348.09,299.36 348.67,297.17 349.28,295.06 349.88,293.13 350.47,291.49 351.03,290.16 351.60,289.08 352.17,288.18 352.74,287.41 353.31,286.72 353.88,286.04 354.37,285.41 354.79,284.87 355.20,284.41 355.70,284.00 356.37,283.63 357.28,283.28 358.54,282.95 360.08,282.64 361.78,282.38 363.54,282.16 365.22,282.00 366.71,281.91 368.01,281.92 369.22,282.05 370.37,282.24 371.45,282.43 372.50,282.58 373.52,282.63 374.51,282.54 375.45,282.36 376.36,282.13 377.23,281.91 378.09,281.75 378.94,281.71 379.76,281.73 380.53,281.77 381.29,281.86 382.06,282.07 382.87,282.44 383.75,283.02 384.74,283.91 385.83,285.08 386.96,286.42 388.06,287.79 389.09,289.06 389.97,290.11 390.61,290.93 391.05,291.60 391.41,292.19 391.80,292.72 392.35,293.24 393.17,293.79 394.31,294.39 395.66,295.01 397.17,295.62 398.77,296.19 400.40,296.68 402.00,297.07 403.48,297.39 404.89,297.65 406.33,297.85 407.90,297.95 409.69,297.91 411.82,297.73 414.44,297.31 417.52,296.68 420.82,295.92 424.12,295.13 427.21,294.38 429.86,293.79 431.75,293.39 432.99,293.13 434.01,292.93 435.25,292.69 437.13,292.35 440.09,291.82 444.56,291.07 450.29,290.17 456.66,289.15 463.07,288.07 468.91,286.98 473.57,285.91 476.99,284.86 479.63,283.79 481.71,282.71 483.42,281.61 484.98,280.49 486.61,279.35 488.19,278.15 489.54,276.89 490.74,275.61 491.87,274.36 493.01,273.18 494.23,272.12 495.53,271.16 496.86,270.25 498.20,269.42 499.52,268.67 500.81,268.04 502.04,267.53 503.21,267.17 504.30,266.94 505.37,266.83 506.43,266.80 507.51,266.82 508.66,266.87 509.86,266.98 511.09,267.16 512.35,267.41 513.63,267.67 514.94,267.94 516.28,268.18 517.76,268.42 519.40,268.67 521.07,268.92 522.63,269.16 523.95,269.35 524.90,269.50 524.86,272.10 524.82,275.81 524.76,280.15 524.67,284.63 524.52,288.79 524.30,292.15 524.00,294.71 523.65,296.88 523.23,298.71 522.77,300.29 522.26,301.69 521.69,302.98 521.19,304.04 520.76,304.80 520.28,305.38 519.62,305.90 518.67,306.48 517.28,307.25 515.45,308.18 513.25,309.19 510.75,310.26 508.01,311.39 505.09,312.58 502.04,313.81 498.73,315.26 495.09,316.95 491.26,318.69 487.39,320.30 483.65,321.58 480.19,322.35 477.21,322.48 474.62,322.10 472.16,321.40 469.54,320.55 466.50,319.71 462.75,319.06 457.99,318.55 452.38,318.02 446.34,317.50 440.30,317.05 434.66,316.68 429.86,316.44 425.93,316.33 422.52,316.34 419.53,316.44 416.82,316.61 414.30,316.83 411.82,317.09 409.49,317.37 407.42,317.66 405.53,318.01 403.72,318.45 401.90,319.01 399.99,319.72 397.98,320.62 395.93,321.67 393.87,322.85 391.84,324.11 389.86,325.40 387.96,326.68 386.11,328.00 384.29,329.41 382.52,330.86 380.82,332.28 379.22,333.62 377.73,334.82 376.48,335.85 375.45,336.74 374.53,337.54 373.55,338.33 372.40,339.15 370.92,340.07 369.01,341.11 366.75,342.24 364.31,343.40 361.85,344.55 359.52,345.64 357.48,346.64 355.72,347.49 354.08,348.22 352.58,348.89 351.22,349.58 349.98,350.34 348.86,351.23 347.90,352.30 347.10,353.49 346.43,354.76 345.86,356.05 345.34,357.30 344.85,358.45 344.43,359.43 344.10,360.25 343.82,361.04 343.58,361.91 343.33,362.97 343.05,364.36 342.72,366.10 342.37,368.11 342.02,370.31 341.67,372.65 341.34,375.07 341.04,377.49 340.76,380.15 340.48,383.13 340.22,386.19 339.98,389.07 339.79,391.50 339.64,393.25" fill="none" stroke="#4b8a24" stroke-width="1.7" stroke-linejoin="round" stroke-dasharray="0.1 4.8" stroke-linecap="round"/>
<polyline points="339.64,397.84 339.84,393.49 340.11,387.34 340.43,380.12 340.78,372.53 341.12,365.29 341.44,359.11 341.74,353.91 342.05,349.09 342.35,344.63 342.65,340.46 342.95,336.55 343.25,332.85 343.55,329.41 343.84,326.29 344.14,323.41 344.44,320.74 344.74,318.22 345.05,315.78 345.36,313.51 345.65,311.47 345.96,309.56 346.28,307.73 346.64,305.89 347.06,303.96 347.54,301.88 348.09,299.69 348.67,297.49 349.28,295.38 349.88,293.46 350.47,291.82 351.03,290.49 351.60,289.41 352.17,288.51 352.74,287.74 353.31,287.04 353.88,286.37 354.37,285.74 354.79,285.20 355.20,284.74 355.70,284.33 356.37,283.96 357.28,283.61 358.54,283.28 360.08,282.97 361.78,282.71 363.54,282.49 365.22,282.33 366.71,282.23 368.01,282.25 369.22,282.38 370.37,282.57 371.45,282.76 372.50,282.91 373.52,282.96 374.51,282.87 375.45,282.69 376.36,282.46 377.23,282.24 378.09,282.08 378.94,282.04 379.76,282.06 380.53,282.10 381.29,282.19 382.06,282.40 382.87,282.77 383.75,283.35 384.74,284.24 385.83,285.41 386.96,286.75 388.06,288.12 389.09,289.39 389.97,290.44 390.61,291.25 391.05,291.93 391.41,292.52 391.80,293.05 392.35,293.57 393.17,294.12 394.31,294.72 395.66,295.34 397.17,295.95 398.77,296.51 400.40,297.01 402.00,297.40 403.48,297.70 404.89,297.93 406.33,298.10 407.90,298.18 409.69,298.17 411.82,298.06 414.44,297.80 417.52,297.40 420.82,296.91 424.12,296.38 427.21,295.87 429.86,295.43 431.75,295.11 432.99,294.87 434.01,294.65 435.25,294.38 437.13,294.01 440.09,293.46 444.56,292.71 450.29,291.81 456.66,290.79 463.07,289.72 468.91,288.62 473.57,287.55 476.99,286.50 479.63,285.44 481.71,284.35 483.42,283.25 484.98,282.13 486.61,280.99 488.19,279.81 489.54,278.58 490.74,277.33 491.87,276.10 493.01,274.90 494.23,273.77 495.53,272.64 496.86,271.50 498.20,270.40 499.52,269.39 500.81,268.52 502.04,267.86 503.21,267.42 504.30,267.18 505.37,267.08 506.43,267.08 507.51,267.13 508.66,267.20 509.86,267.30 511.09,267.49 512.35,267.73 513.63,268.00 514.94,268.27 516.28,268.51 517.76,268.75 519.40,269.00 521.07,269.25 522.63,269.49 523.95,269.68 524.90,269.83 524.86,272.47 524.82,276.23 524.76,280.64 524.67,285.19 524.52,289.41 524.30,292.80 524.00,295.37 523.65,297.51 523.23,299.31 522.77,300.86 522.26,302.27 521.69,303.64 521.19,304.86 520.76,305.85 520.28,306.69 519.62,307.48 518.67,308.29 517.28,309.22 515.45,310.23 513.25,311.26 510.75,312.31 508.01,313.41 505.09,314.56 502.04,315.78 498.73,317.23 495.09,318.92 491.26,320.66 487.39,322.27 483.65,323.55 480.19,324.32 477.21,324.45 474.62,324.10 472.16,323.41 469.54,322.56 466.50,321.72 462.75,321.03 457.99,320.44 452.38,319.79 446.34,319.15 440.30,318.55 434.66,318.07 429.86,317.75 425.93,317.61 422.52,317.60 419.53,317.71 416.82,317.90 414.30,318.14 411.82,318.41 409.49,318.68 407.42,318.98 405.53,319.33 403.72,319.76 401.90,320.32 399.99,321.03 397.98,321.91 395.93,322.91 393.87,324.04 391.84,325.28 389.86,326.60 387.96,327.99 386.11,329.55 384.29,331.31 382.52,333.15 380.82,334.98 379.22,336.66 377.73,338.10 376.48,339.24 375.45,340.16 374.53,340.95 373.55,341.69 372.40,342.46 370.92,343.35 369.01,344.38 366.75,345.47 364.31,346.60 361.85,347.73 359.52,348.85 357.48,349.92 355.72,350.93 354.08,351.89 352.58,352.83 351.22,353.79 349.98,354.77 348.86,355.83 347.90,356.97 347.10,358.19 346.43,359.44 345.86,360.69 345.34,361.91 344.85,363.05 344.43,364.03 344.10,364.85 343.82,365.63 343.58,366.50 343.33,367.57 343.05,368.96 342.72,370.70 342.37,372.70 342.02,374.91 341.67,377.25 341.34,379.66 341.04,382.09 340.76,384.74 340.48,387.73 340.22,390.79 339.98,393.66 339.79,396.10 339.64,397.84" fill="none" stroke="#4b8a24" stroke-width="1.25" stroke-linejoin="round" />
<line x1="413.60" y1="379.30" x2="434.20" y2="379.30" stroke="#4b8a24" stroke-width="1.4" />
<line x1="413.60" y1="391.60" x2="434.20" y2="391.60" stroke="#4b8a24" stroke-width="1.8" stroke-dasharray="0.1 6.4" stroke-linecap="round"/>
<text x="437.40" y="382.50" font-size="9.1" text-anchor="start" fill="#111" stroke="#111" stroke-width="0.25" font-weight="bold" font-style="normal" >PtCo/C-400 BOL</text>
<text x="437.40" y="394.80" font-size="9.1" text-anchor="start" fill="#111" stroke="#111" stroke-width="0.25" font-weight="bold" font-style="normal" >PtCo/C-400 EOL</text>
</svg></body></html>
